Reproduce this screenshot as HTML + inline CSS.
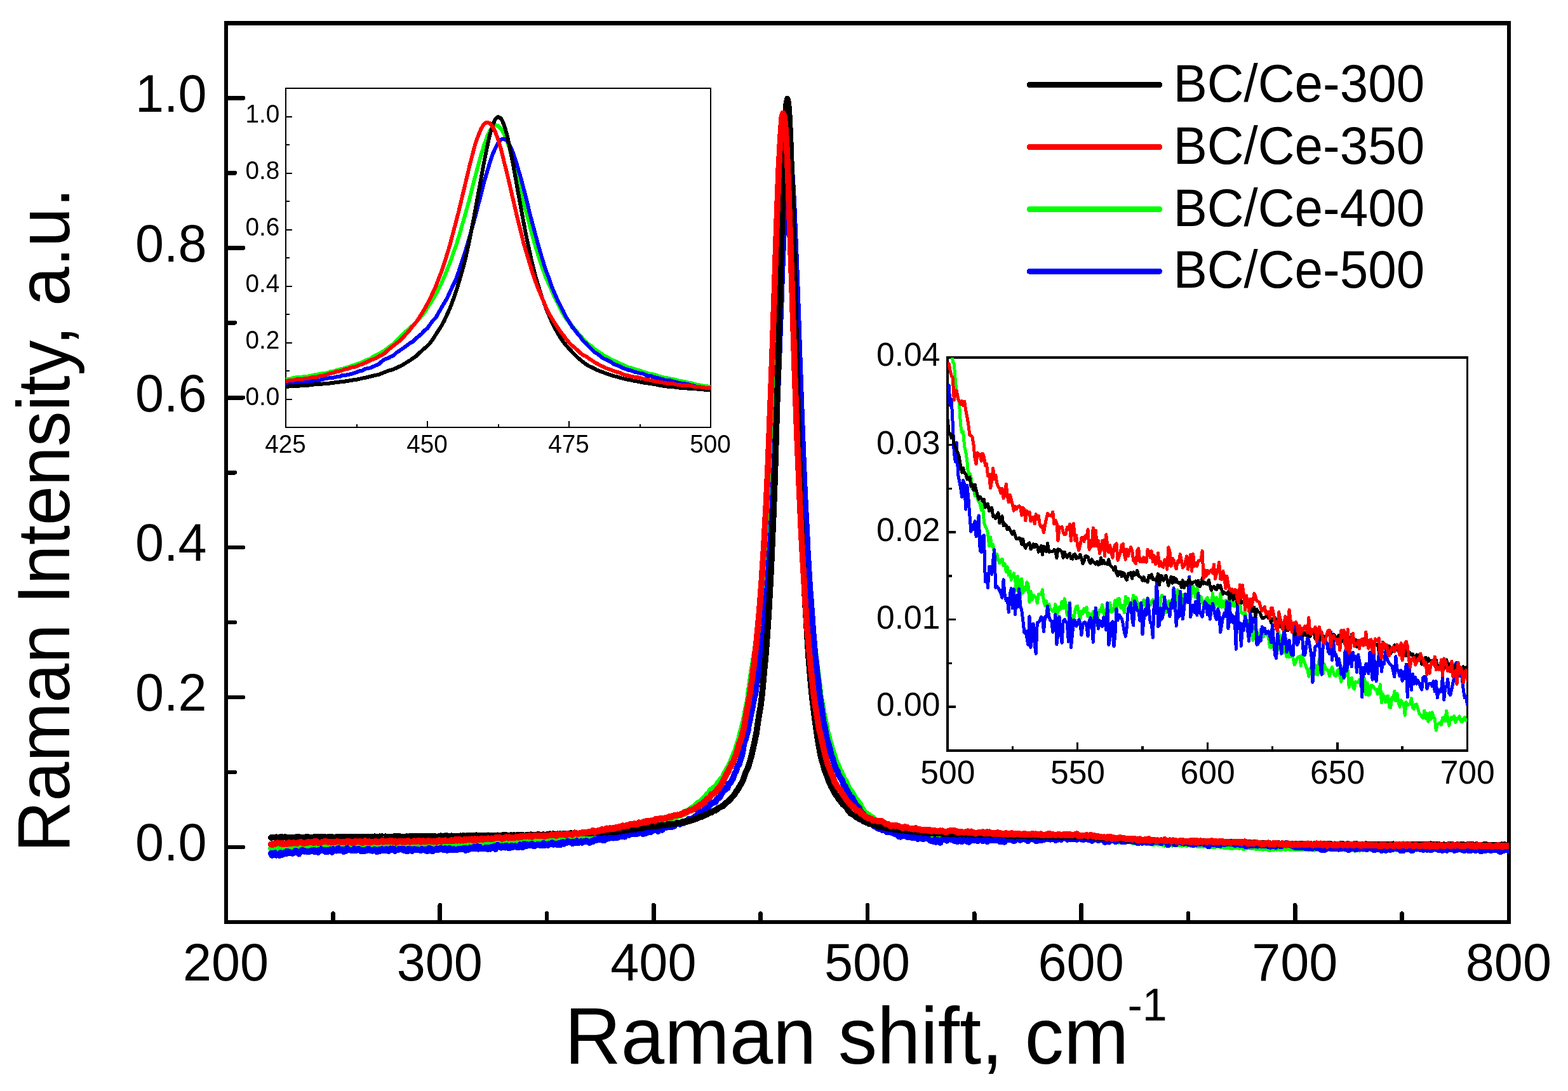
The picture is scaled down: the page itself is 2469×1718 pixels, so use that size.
<!DOCTYPE html>
<html lang="en">
<head>
<meta charset="utf-8">
<title>Raman spectra</title>
<style>
html,body{margin:0;padding:0;background:#fff;}
body{width:2469px;height:1718px;overflow:hidden;}
svg{display:block;}
</style>
</head>
<body>
<svg width="2469" height="1718" viewBox="0 0 2469 1718" font-family='"Liberation Sans", sans-serif' fill="#000" shape-rendering="crispEdges">
<rect x="0" y="0" width="2469" height="1718" fill="#fff"/>
<g stroke="#000" stroke-width="6.6" stroke-linecap="round" fill="none">
<line x1="524.42" y1="1452.00" x2="524.42" y2="1438.40"/>
<line x1="692.73" y1="1452.00" x2="692.73" y2="1425.20"/>
<line x1="861.05" y1="1452.00" x2="861.05" y2="1438.40"/>
<line x1="1029.37" y1="1452.00" x2="1029.37" y2="1425.20"/>
<line x1="1197.68" y1="1452.00" x2="1197.68" y2="1438.40"/>
<line x1="1366.00" y1="1452.00" x2="1366.00" y2="1425.20"/>
<line x1="1534.32" y1="1452.00" x2="1534.32" y2="1438.40"/>
<line x1="1702.63" y1="1452.00" x2="1702.63" y2="1425.20"/>
<line x1="1870.95" y1="1452.00" x2="1870.95" y2="1438.40"/>
<line x1="2039.27" y1="1452.00" x2="2039.27" y2="1425.20"/>
<line x1="2207.58" y1="1452.00" x2="2207.58" y2="1438.40"/>
<line x1="356.10" y1="1334.03" x2="382.90" y2="1334.03"/>
<line x1="356.10" y1="1216.07" x2="369.70" y2="1216.07"/>
<line x1="356.10" y1="1098.10" x2="382.90" y2="1098.10"/>
<line x1="356.10" y1="980.13" x2="369.70" y2="980.13"/>
<line x1="356.10" y1="862.17" x2="382.90" y2="862.17"/>
<line x1="356.10" y1="744.20" x2="369.70" y2="744.20"/>
<line x1="356.10" y1="626.23" x2="382.90" y2="626.23"/>
<line x1="356.10" y1="508.27" x2="369.70" y2="508.27"/>
<line x1="356.10" y1="390.30" x2="382.90" y2="390.30"/>
<line x1="356.10" y1="272.33" x2="369.70" y2="272.33"/>
<line x1="356.10" y1="154.37" x2="382.90" y2="154.37"/>
</g>
<rect x="356.10" y="36.40" width="2019.80" height="1415.60" fill="none" stroke="#000" stroke-width="6.4"/>
<clipPath id="cm"><rect x="356.10" y="36.40" width="2019.80" height="1415.60"/></clipPath>
<g clip-path="url(#cm)" fill="none" stroke-width="9.6" stroke-linejoin="round" stroke-linecap="round">
<path d="M426.8,1335.8 L428.5,1334.7 L430.2,1335.4 L431.8,1336.8 L433.5,1336.4 L435.2,1335.2 L436.9,1335.8 L438.6,1334.8 L440.3,1337.0 L441.9,1334.0 L443.6,1334.1 L445.3,1336.4 L447.0,1335.5 L448.7,1335.6 L450.4,1335.4 L452.0,1334.3 L453.7,1335.3 L455.4,1335.5 L457.1,1334.3 L458.8,1333.7 L460.5,1334.9 L462.1,1334.3 L463.8,1335.5 L465.5,1333.7 L467.2,1332.7 L468.9,1333.8 L470.6,1334.2 L472.2,1335.5 L473.9,1334.2 L475.6,1335.4 L477.3,1333.3 L479.0,1332.5 L480.7,1332.7 L482.3,1333.5 L484.0,1333.2 L485.7,1334.0 L487.4,1333.3 L489.1,1333.2 L490.8,1333.3 L492.4,1335.0 L494.1,1333.0 L495.8,1332.8 L497.5,1333.7 L499.2,1332.8 L500.9,1332.4 L502.5,1334.6 L504.2,1332.3 L505.9,1333.3 L507.6,1333.7 L509.3,1332.7 L511.0,1333.4 L512.6,1333.1 L514.3,1333.5 L516.0,1333.2 L517.7,1333.5 L519.4,1333.1 L521.1,1333.4 L522.7,1333.5 L524.4,1331.7 L526.1,1332.5 L527.8,1332.1 L529.5,1331.2 L531.1,1331.9 L532.8,1332.4 L534.5,1333.2 L536.2,1331.8 L537.9,1332.0 L539.6,1331.5 L541.2,1332.4 L542.9,1332.5 L544.6,1333.8 L546.3,1331.8 L548.0,1333.3 L549.7,1332.6 L551.3,1331.8 L553.0,1332.1 L554.7,1332.2 L556.4,1331.8 L558.1,1333.4 L559.8,1332.1 L561.4,1331.2 L563.1,1331.2 L564.8,1333.2 L566.5,1331.4 L568.2,1331.7 L569.9,1332.8 L571.5,1333.0 L573.2,1332.1 L574.9,1331.0 L576.6,1331.6 L578.3,1332.7 L580.0,1331.9 L581.6,1331.2 L583.3,1332.0 L585.0,1332.3 L586.7,1331.6 L588.4,1333.4 L590.1,1331.6 L591.7,1332.9 L593.4,1331.9 L595.1,1331.6 L596.8,1331.9 L598.5,1332.4 L600.2,1332.1 L601.8,1331.2 L603.5,1332.8 L605.2,1332.4 L606.9,1331.5 L608.6,1331.1 L610.3,1331.7 L611.9,1332.1 L613.6,1331.2 L615.3,1332.0 L617.0,1330.2 L618.7,1330.7 L620.4,1330.2 L622.0,1332.3 L623.7,1331.9 L625.4,1331.8 L627.1,1332.5 L628.8,1331.9 L630.5,1330.8 L632.1,1332.2 L633.8,1331.7 L635.5,1330.4 L637.2,1331.2 L638.9,1331.1 L640.6,1331.4 L642.2,1331.8 L643.9,1331.6 L645.6,1331.2 L647.3,1331.8 L649.0,1331.3 L650.7,1331.6 L652.3,1331.3 L654.0,1330.1 L655.7,1330.8 L657.4,1332.1 L659.1,1331.3 L660.8,1329.8 L662.4,1329.8 L664.1,1331.9 L665.8,1330.7 L667.5,1331.0 L669.2,1332.6 L670.9,1330.7 L672.5,1329.5 L674.2,1331.4 L675.9,1331.1 L677.6,1330.1 L679.3,1331.1 L681.0,1331.0 L682.6,1330.5 L684.3,1331.7 L686.0,1330.2 L687.7,1331.5 L689.4,1330.4 L691.1,1329.8 L692.7,1329.1 L694.4,1330.9 L696.1,1330.1 L697.8,1330.0 L699.5,1331.4 L701.1,1330.1 L702.8,1329.8 L704.5,1329.5 L706.2,1328.4 L707.9,1329.7 L709.6,1329.7 L711.2,1329.7 L712.9,1329.6 L714.6,1329.1 L716.3,1328.3 L718.0,1330.1 L719.7,1329.2 L721.3,1330.8 L723.0,1330.3 L724.7,1328.9 L726.4,1330.5 L728.1,1328.6 L729.8,1327.9 L731.4,1329.4 L733.1,1329.2 L734.8,1328.6 L736.5,1328.9 L738.2,1328.5 L739.9,1328.9 L741.5,1327.6 L743.2,1328.0 L744.9,1328.1 L746.6,1329.6 L748.3,1328.4 L750.0,1327.8 L751.6,1327.3 L753.3,1328.2 L755.0,1327.2 L756.7,1326.9 L758.4,1327.9 L760.1,1326.8 L761.7,1327.4 L763.4,1328.0 L765.1,1327.1 L766.8,1326.1 L768.5,1326.7 L770.2,1326.9 L771.8,1326.2 L773.5,1326.2 L775.2,1326.5 L776.9,1327.9 L778.6,1328.1 L780.3,1327.6 L781.9,1325.1 L783.6,1325.8 L785.3,1327.3 L787.0,1325.6 L788.7,1327.1 L790.4,1325.9 L792.0,1325.3 L793.7,1325.9 L795.4,1325.2 L797.1,1325.1 L798.8,1326.9 L800.5,1325.7 L802.1,1325.2 L803.8,1325.8 L805.5,1326.4 L807.2,1324.3 L808.9,1325.1 L810.6,1325.6 L812.2,1325.8 L813.9,1325.1 L815.6,1324.2 L817.3,1325.3 L819.0,1324.5 L820.7,1324.6 L822.3,1324.9 L824.0,1324.6 L825.7,1324.5 L827.4,1325.2 L829.1,1325.4 L830.8,1323.9 L832.4,1323.2 L834.1,1323.8 L835.8,1324.7 L837.5,1324.0 L839.2,1324.3 L840.9,1324.8 L842.5,1324.5 L844.2,1324.1 L845.9,1323.2 L847.6,1324.3 L849.3,1322.6 L851.0,1323.3 L852.6,1322.4 L854.3,1322.5 L856.0,1322.9 L857.7,1322.9 L859.4,1322.6 L861.1,1322.6 L862.7,1322.2 L864.4,1321.3 L866.1,1322.0 L867.8,1321.3 L869.5,1321.6 L871.1,1322.4 L872.8,1321.7 L874.5,1321.5 L876.2,1321.2 L877.9,1322.0 L879.6,1320.9 L881.2,1322.0 L882.9,1321.5 L884.6,1320.9 L886.3,1321.1 L888.0,1321.7 L889.7,1321.9 L891.3,1321.2 L893.0,1321.2 L894.7,1319.1 L896.4,1321.2 L898.1,1321.3 L899.8,1318.6 L901.4,1321.2 L903.1,1320.3 L904.8,1319.4 L906.5,1319.6 L908.2,1319.3 L909.9,1318.2 L911.5,1317.5 L913.2,1318.9 L914.9,1318.6 L916.6,1318.9 L918.3,1318.9 L920.0,1318.6 L921.6,1318.0 L923.3,1318.3 L925.0,1317.6 L926.7,1317.9 L928.4,1318.2 L930.1,1317.5 L931.7,1317.2 L933.4,1317.2 L935.1,1316.9 L936.8,1316.0 L938.5,1317.1 L940.2,1315.3 L941.8,1316.2 L943.5,1315.6 L945.2,1314.4 L946.9,1314.4 L948.6,1316.1 L950.3,1314.3 L951.9,1313.4 L953.6,1314.8 L955.3,1314.2 L957.0,1312.6 L958.7,1314.3 L960.4,1311.9 L962.0,1313.8 L963.7,1313.1 L965.4,1312.7 L967.1,1312.4 L968.8,1311.2 L970.5,1311.2 L972.1,1311.1 L973.8,1310.8 L975.5,1311.8 L977.2,1310.8 L978.9,1309.3 L980.6,1310.7 L982.2,1308.5 L983.9,1309.3 L985.6,1309.6 L987.3,1308.0 L989.0,1307.7 L990.7,1308.4 L992.3,1308.0 L994.0,1307.9 L995.7,1307.4 L997.4,1308.1 L999.1,1306.7 L1000.8,1305.0 L1002.4,1305.9 L1004.1,1304.9 L1005.8,1304.2 L1007.5,1304.3 L1009.2,1304.3 L1010.9,1304.0 L1012.5,1303.6 L1014.2,1302.5 L1015.9,1302.6 L1017.6,1301.4 L1019.3,1300.2 L1021.0,1300.7 L1022.6,1301.6 L1024.3,1299.9 L1026.0,1299.8 L1027.7,1299.5 L1029.4,1299.3 L1031.0,1298.4 L1032.7,1296.0 L1034.4,1295.5 L1036.1,1295.5 L1037.8,1296.8 L1039.5,1295.6 L1041.1,1294.4 L1042.8,1294.8 L1044.5,1293.6 L1046.2,1292.7 L1047.9,1291.8 L1049.6,1291.9 L1051.2,1291.3 L1052.9,1291.2 L1054.6,1290.7 L1056.3,1289.7 L1058.0,1289.1 L1059.7,1287.7 L1061.3,1287.2 L1063.0,1287.0 L1064.7,1285.1 L1066.4,1285.7 L1068.1,1284.3 L1069.8,1283.7 L1071.4,1283.8 L1073.1,1282.7 L1074.8,1281.5 L1076.5,1281.1 L1078.2,1281.3 L1079.9,1278.0 L1081.5,1278.3 L1083.2,1276.6 L1084.9,1275.9 L1086.6,1274.9 L1088.3,1273.0 L1090.0,1271.9 L1091.6,1272.2 L1093.3,1270.2 L1095.0,1268.1 L1096.7,1266.9 L1098.4,1264.8 L1100.1,1264.5 L1101.7,1262.8 L1103.4,1262.9 L1105.1,1259.6 L1106.8,1259.0 L1108.5,1257.3 L1110.2,1255.3 L1111.8,1253.5 L1113.5,1250.8 L1115.2,1250.9 L1116.9,1248.0 L1118.6,1244.5 L1120.3,1243.4 L1121.9,1243.4 L1123.6,1240.7 L1125.3,1239.8 L1127.0,1238.5 L1128.7,1236.4 L1130.4,1233.3 L1132.0,1231.8 L1133.7,1229.1 L1135.4,1226.4 L1137.1,1225.9 L1138.8,1223.6 L1140.5,1218.1 L1142.1,1217.3 L1143.8,1213.3 L1145.5,1209.9 L1147.2,1207.3 L1148.9,1204.4 L1150.6,1200.5 L1152.2,1196.7 L1153.9,1191.9 L1155.6,1188.1 L1157.3,1184.3 L1159.0,1179.4 L1160.7,1173.3 L1162.3,1169.2 L1164.0,1164.0 L1165.7,1155.3 L1167.4,1150.0 L1169.1,1143.4 L1170.8,1137.4 L1172.4,1130.2 L1174.1,1120.7 L1175.8,1111.7 L1177.5,1104.4 L1179.2,1090.6 L1180.9,1079.3 L1182.5,1068.3 L1184.2,1055.5 L1185.9,1045.7 L1187.6,1035.0 L1189.3,1025.0 L1191.0,1012.1 L1192.6,1000.2 L1194.3,986.6 L1196.0,971.9 L1197.7,952.9 L1199.4,934.6 L1201.0,916.1 L1202.7,896.3 L1204.4,873.0 L1206.1,850.1 L1207.8,821.8 L1209.5,793.4 L1211.1,763.2 L1212.8,730.8 L1214.5,696.3 L1216.2,659.8 L1217.9,619.3 L1219.6,577.7 L1221.2,536.0 L1222.9,492.6 L1224.6,443.3 L1226.3,399.1 L1228.0,354.9 L1229.7,312.3 L1231.3,274.4 L1233.0,240.3 L1234.7,214.6 L1236.4,198.5 L1238.1,190.4 L1239.8,193.5 L1241.4,206.0 L1243.1,225.5 L1244.8,251.6 L1246.5,288.5 L1248.2,329.6 L1249.9,372.2 L1251.5,418.2 L1253.2,465.5 L1254.9,513.4 L1256.6,558.2 L1258.3,603.6 L1260.0,649.2 L1261.6,691.0 L1263.3,729.1 L1265.0,766.2 L1266.7,800.2 L1268.4,832.1 L1270.1,856.7 L1271.7,883.9 L1273.4,910.8 L1275.1,934.1 L1276.8,958.8 L1278.5,979.9 L1280.2,998.7 L1281.8,1013.9 L1283.5,1026.8 L1285.2,1042.8 L1286.9,1055.8 L1288.6,1069.6 L1290.3,1082.5 L1291.9,1096.6 L1293.6,1106.2 L1295.3,1114.0 L1297.0,1125.1 L1298.7,1132.6 L1300.4,1140.8 L1302.0,1149.7 L1303.7,1156.1 L1305.4,1161.8 L1307.1,1169.2 L1308.8,1174.1 L1310.5,1179.9 L1312.1,1185.5 L1313.8,1190.4 L1315.5,1195.7 L1317.2,1201.4 L1318.9,1203.8 L1320.6,1207.5 L1322.2,1212.1 L1323.9,1214.9 L1325.6,1219.3 L1327.3,1222.6 L1329.0,1227.0 L1330.7,1229.0 L1332.3,1231.0 L1334.0,1235.3 L1335.7,1239.4 L1337.4,1242.2 L1339.1,1245.2 L1340.8,1246.5 L1342.4,1250.4 L1344.1,1251.6 L1345.8,1254.9 L1347.5,1258.8 L1349.2,1259.5 L1350.9,1262.0 L1352.5,1265.1 L1354.2,1265.8 L1355.9,1270.5 L1357.6,1273.1 L1359.3,1275.8 L1361.0,1277.8 L1362.6,1279.9 L1364.3,1280.8 L1366.0,1283.0 L1367.7,1283.2 L1369.4,1284.6 L1371.0,1285.7 L1372.7,1287.4 L1374.4,1287.7 L1376.1,1290.1 L1377.8,1291.5 L1379.5,1292.2 L1381.1,1293.0 L1382.8,1296.0 L1384.5,1296.9 L1386.2,1296.9 L1387.9,1298.9 L1389.6,1299.6 L1391.2,1300.8 L1392.9,1302.8 L1394.6,1302.5 L1396.3,1303.0 L1398.0,1304.6 L1399.7,1304.4 L1401.3,1305.5 L1403.0,1304.9 L1404.7,1305.9 L1406.4,1306.3 L1408.1,1306.6 L1409.8,1307.5 L1411.4,1306.7 L1413.1,1309.1 L1414.8,1309.7 L1416.5,1309.9 L1418.2,1310.6 L1419.9,1312.3 L1421.5,1311.1 L1423.2,1312.4 L1424.9,1312.1 L1426.6,1313.3 L1428.3,1313.6 L1430.0,1313.4 L1431.6,1314.2 L1433.3,1314.6 L1435.0,1314.2 L1436.7,1314.1 L1438.4,1315.0 L1440.1,1314.7 L1441.7,1315.8 L1443.4,1315.1 L1445.1,1316.3 L1446.8,1315.7 L1448.5,1316.9 L1450.2,1316.3 L1451.8,1316.0 L1453.5,1316.9 L1455.2,1318.3 L1456.9,1316.4 L1458.6,1318.1 L1460.3,1319.4 L1461.9,1316.7 L1463.6,1318.6 L1465.3,1317.8 L1467.0,1318.3 L1468.7,1317.2 L1470.4,1317.5 L1472.0,1319.9 L1473.7,1318.4 L1475.4,1319.6 L1477.1,1319.0 L1478.8,1319.1 L1480.5,1319.2 L1482.1,1320.0 L1483.8,1318.8 L1485.5,1318.8 L1487.2,1318.9 L1488.9,1318.2 L1490.6,1319.8 L1492.2,1320.3 L1493.9,1319.7 L1495.6,1321.4 L1497.3,1320.1 L1499.0,1320.9 L1500.7,1320.9 L1502.3,1321.1 L1504.0,1321.1 L1505.7,1320.2 L1507.4,1321.6 L1509.1,1321.2 L1510.8,1320.5 L1512.4,1320.9 L1514.1,1319.8 L1515.8,1320.7 L1517.5,1319.4 L1519.2,1320.3 L1520.9,1321.7 L1522.5,1321.1 L1524.2,1319.9 L1525.9,1322.0 L1527.6,1321.7 L1529.3,1322.4 L1531.0,1321.2 L1532.6,1320.5 L1534.3,1320.4 L1536.0,1321.3 L1537.7,1322.2 L1539.4,1321.1 L1541.0,1321.4 L1542.7,1320.8 L1544.4,1321.2 L1546.1,1320.6 L1547.8,1321.8 L1549.5,1321.4 L1551.1,1321.6 L1552.8,1321.8 L1554.5,1321.2 L1556.2,1322.7 L1557.9,1322.6 L1559.6,1323.1 L1561.2,1321.5 L1562.9,1320.9 L1564.6,1321.2 L1566.3,1320.3 L1568.0,1321.2 L1569.7,1321.8 L1571.3,1320.9 L1573.0,1320.9 L1574.7,1320.7 L1576.4,1320.0 L1578.1,1321.3 L1579.8,1321.1 L1581.4,1320.6 L1583.1,1319.6 L1584.8,1321.0 L1586.5,1319.5 L1588.2,1319.4 L1589.9,1320.6 L1591.5,1320.7 L1593.2,1320.3 L1594.9,1321.3 L1596.6,1319.1 L1598.3,1320.1 L1600.0,1319.4 L1601.6,1320.6 L1603.3,1320.0 L1605.0,1320.2 L1606.7,1319.0 L1608.4,1320.8 L1610.1,1319.2 L1611.7,1320.0 L1613.4,1320.1 L1615.1,1321.2 L1616.8,1320.1 L1618.5,1320.3 L1620.2,1319.6 L1621.8,1320.3 L1623.5,1320.4 L1625.2,1319.3 L1626.9,1319.8 L1628.6,1320.3 L1630.3,1319.8 L1631.9,1319.6 L1633.6,1320.1 L1635.3,1320.0 L1637.0,1318.9 L1638.7,1320.0 L1640.4,1321.4 L1642.0,1319.3 L1643.7,1319.0 L1645.4,1319.2 L1647.1,1319.2 L1648.8,1321.3 L1650.5,1320.5 L1652.1,1319.8 L1653.8,1319.7 L1655.5,1319.8 L1657.2,1320.7 L1658.9,1320.3 L1660.6,1320.0 L1662.2,1319.1 L1663.9,1318.2 L1665.6,1320.8 L1667.3,1319.6 L1669.0,1320.3 L1670.7,1318.9 L1672.3,1319.3 L1674.0,1319.1 L1675.7,1319.3 L1677.4,1319.8 L1679.1,1319.8 L1680.8,1319.4 L1682.4,1318.5 L1684.1,1317.7 L1685.8,1318.4 L1687.5,1319.3 L1689.2,1318.0 L1690.9,1318.9 L1692.5,1319.1 L1694.2,1319.2 L1695.9,1319.9 L1697.6,1320.3 L1699.3,1319.8 L1701.0,1319.5 L1702.6,1319.3 L1704.3,1320.3 L1706.0,1319.6 L1707.7,1320.8 L1709.4,1318.7 L1711.0,1320.0 L1712.7,1320.4 L1714.4,1319.3 L1716.1,1319.8 L1717.8,1320.6 L1719.5,1318.7 L1721.1,1320.6 L1722.8,1319.7 L1724.5,1320.5 L1726.2,1319.6 L1727.9,1319.7 L1729.6,1320.8 L1731.2,1320.9 L1732.9,1319.6 L1734.6,1320.4 L1736.3,1320.0 L1738.0,1320.5 L1739.7,1320.0 L1741.3,1320.4 L1743.0,1321.3 L1744.7,1320.0 L1746.4,1321.3 L1748.1,1321.4 L1749.8,1321.5 L1751.4,1321.1 L1753.1,1322.7 L1754.8,1322.4 L1756.5,1322.8 L1758.2,1323.1 L1759.9,1323.9 L1761.5,1325.0 L1763.2,1324.1 L1764.9,1323.1 L1766.6,1324.0 L1768.3,1324.3 L1770.0,1324.2 L1771.6,1323.6 L1773.3,1324.4 L1775.0,1324.6 L1776.7,1324.1 L1778.4,1323.8 L1780.1,1324.4 L1781.7,1324.6 L1783.4,1326.0 L1785.1,1326.0 L1786.8,1325.0 L1788.5,1325.5 L1790.2,1325.6 L1791.8,1325.2 L1793.5,1325.0 L1795.2,1323.9 L1796.9,1326.4 L1798.6,1325.8 L1800.3,1324.4 L1801.9,1326.7 L1803.6,1326.0 L1805.3,1327.3 L1807.0,1325.8 L1808.7,1327.3 L1810.4,1326.6 L1812.0,1326.5 L1813.7,1327.5 L1815.4,1328.3 L1817.1,1328.0 L1818.8,1327.5 L1820.5,1327.3 L1822.1,1327.2 L1823.8,1328.5 L1825.5,1327.0 L1827.2,1327.7 L1828.9,1328.1 L1830.6,1328.7 L1832.2,1329.0 L1833.9,1329.9 L1835.6,1328.9 L1837.3,1328.7 L1839.0,1327.6 L1840.7,1328.2 L1842.3,1329.6 L1844.0,1328.5 L1845.7,1329.7 L1847.4,1327.6 L1849.1,1327.4 L1850.8,1328.9 L1852.4,1329.6 L1854.1,1328.3 L1855.8,1329.0 L1857.5,1329.0 L1859.2,1329.2 L1860.9,1329.9 L1862.5,1329.0 L1864.2,1328.6 L1865.9,1329.4 L1867.6,1329.8 L1869.3,1329.9 L1871.0,1329.2 L1872.6,1329.0 L1874.3,1329.9 L1876.0,1330.6 L1877.7,1329.5 L1879.4,1330.1 L1881.0,1329.8 L1882.7,1328.6 L1884.4,1329.0 L1886.1,1331.4 L1887.8,1330.7 L1889.5,1330.1 L1891.1,1331.4 L1892.8,1331.6 L1894.5,1330.6 L1896.2,1330.7 L1897.9,1330.7 L1899.6,1330.4 L1901.2,1331.1 L1902.9,1330.9 L1904.6,1330.9 L1906.3,1330.2 L1908.0,1332.4 L1909.7,1330.8 L1911.3,1332.5 L1913.0,1332.3 L1914.7,1331.1 L1916.4,1331.2 L1918.1,1331.3 L1919.8,1331.7 L1921.4,1331.7 L1923.1,1332.3 L1924.8,1331.7 L1926.5,1331.0 L1928.2,1333.5 L1929.9,1332.3 L1931.5,1332.7 L1933.2,1333.4 L1934.9,1332.6 L1936.6,1332.6 L1938.3,1334.1 L1940.0,1334.2 L1941.6,1332.8 L1943.3,1333.0 L1945.0,1331.9 L1946.7,1333.3 L1948.4,1332.2 L1950.1,1333.4 L1951.7,1334.0 L1953.4,1333.2 L1955.1,1333.7 L1956.8,1333.6 L1958.5,1335.2 L1960.2,1333.4 L1961.8,1333.9 L1963.5,1333.7 L1965.2,1333.7 L1966.9,1332.9 L1968.6,1334.2 L1970.3,1334.4 L1971.9,1333.7 L1973.6,1333.7 L1975.3,1334.4 L1977.0,1334.9 L1978.7,1335.1 L1980.4,1335.4 L1982.0,1335.5 L1983.7,1334.6 L1985.4,1335.6 L1987.1,1334.9 L1988.8,1336.0 L1990.5,1334.9 L1992.1,1335.7 L1993.8,1334.8 L1995.5,1335.4 L1997.2,1335.6 L1998.9,1337.2 L2000.6,1336.4 L2002.2,1336.3 L2003.9,1336.2 L2005.6,1336.5 L2007.3,1335.5 L2009.0,1335.4 L2010.7,1336.0 L2012.3,1334.6 L2014.0,1335.6 L2015.7,1336.6 L2017.4,1335.7 L2019.1,1335.4 L2020.8,1335.7 L2022.4,1335.3 L2024.1,1336.1 L2025.8,1335.6 L2027.5,1335.6 L2029.2,1335.3 L2030.9,1335.9 L2032.5,1336.1 L2034.2,1335.7 L2035.9,1335.4 L2037.6,1335.9 L2039.3,1335.8 L2040.9,1336.5 L2042.6,1334.7 L2044.3,1336.4 L2046.0,1334.0 L2047.7,1335.8 L2049.4,1334.8 L2051.0,1336.0 L2052.7,1335.4 L2054.4,1335.6 L2056.1,1336.0 L2057.8,1336.6 L2059.5,1336.1 L2061.1,1336.8 L2062.8,1334.8 L2064.5,1336.5 L2066.2,1334.6 L2067.9,1336.0 L2069.6,1337.1 L2071.2,1334.5 L2072.9,1335.1 L2074.6,1336.1 L2076.3,1336.3 L2078.0,1336.3 L2079.7,1335.2 L2081.3,1336.9 L2083.0,1336.3 L2084.7,1335.2 L2086.4,1334.6 L2088.1,1336.4 L2089.8,1336.3 L2091.4,1336.5 L2093.1,1335.3 L2094.8,1336.5 L2096.5,1336.2 L2098.2,1335.7 L2099.9,1335.6 L2101.5,1335.5 L2103.2,1336.6 L2104.9,1335.9 L2106.6,1335.8 L2108.3,1335.5 L2110.0,1335.0 L2111.6,1335.4 L2113.3,1336.6 L2115.0,1335.9 L2116.7,1336.8 L2118.4,1335.1 L2120.1,1336.2 L2121.7,1336.2 L2123.4,1335.9 L2125.1,1336.5 L2126.8,1335.6 L2128.5,1335.6 L2130.2,1336.0 L2131.8,1336.1 L2133.5,1337.8 L2135.2,1336.5 L2136.9,1335.8 L2138.6,1336.0 L2140.3,1337.8 L2141.9,1335.8 L2143.6,1335.6 L2145.3,1336.7 L2147.0,1336.9 L2148.7,1336.2 L2150.4,1337.0 L2152.0,1337.1 L2153.7,1337.3 L2155.4,1335.5 L2157.1,1336.3 L2158.8,1336.8 L2160.5,1337.2 L2162.1,1336.0 L2163.8,1336.7 L2165.5,1336.6 L2167.2,1336.5 L2168.9,1336.7 L2170.6,1336.1 L2172.2,1335.7 L2173.9,1337.3 L2175.6,1337.1 L2177.3,1336.1 L2179.0,1337.0 L2180.7,1336.5 L2182.3,1335.4 L2184.0,1336.1 L2185.7,1335.6 L2187.4,1335.6 L2189.1,1335.6 L2190.8,1336.2 L2192.4,1335.3 L2194.1,1336.8 L2195.8,1336.8 L2197.5,1336.0 L2199.2,1337.0 L2200.9,1336.3 L2202.5,1336.7 L2204.2,1335.7 L2205.9,1336.0 L2207.6,1335.6 L2209.3,1336.7 L2210.9,1337.6 L2212.6,1335.6 L2214.3,1335.3 L2216.0,1337.0 L2217.7,1337.2 L2219.4,1337.7 L2221.0,1335.6 L2222.7,1337.3 L2224.4,1336.3 L2226.1,1336.3 L2227.8,1336.9 L2229.5,1336.6 L2231.1,1336.8 L2232.8,1335.9 L2234.5,1335.5 L2236.2,1335.5 L2237.9,1337.5 L2239.6,1337.4 L2241.2,1336.8 L2242.9,1336.2 L2244.6,1336.0 L2246.3,1338.0 L2248.0,1336.4 L2249.7,1335.9 L2251.3,1336.5 L2253.0,1336.6 L2254.7,1337.8 L2256.4,1335.5 L2258.1,1336.2 L2259.8,1336.8 L2261.4,1336.9 L2263.1,1335.9 L2264.8,1335.6 L2266.5,1336.7 L2268.2,1337.4 L2269.9,1336.1 L2271.5,1337.0 L2273.2,1336.6 L2274.9,1336.7 L2276.6,1337.3 L2278.3,1335.6 L2280.0,1337.4 L2281.6,1335.5 L2283.3,1337.1 L2285.0,1336.7 L2286.7,1336.5 L2288.4,1336.2 L2290.1,1337.2 L2291.7,1335.2 L2293.4,1336.6 L2295.1,1335.3 L2296.8,1335.8 L2298.5,1336.5 L2300.2,1337.0 L2301.8,1336.1 L2303.5,1336.1 L2305.2,1337.0 L2306.9,1336.5 L2308.6,1335.9 L2310.3,1335.7 L2311.9,1336.5 L2313.6,1336.5 L2315.3,1337.0 L2317.0,1337.3 L2318.7,1335.8 L2320.4,1336.3 L2322.0,1336.6 L2323.7,1335.6 L2325.4,1335.8 L2327.1,1337.6 L2328.8,1338.1 L2330.5,1336.4 L2332.1,1336.8 L2333.8,1335.8 L2335.5,1337.3 L2337.2,1336.0 L2338.9,1336.1 L2340.6,1337.2 L2342.2,1335.0 L2343.9,1337.0 L2345.6,1336.4 L2347.3,1336.8 L2349.0,1336.7 L2350.7,1337.1 L2352.3,1337.0 L2354.0,1336.1 L2355.7,1337.6 L2357.4,1336.5 L2359.1,1336.4 L2360.8,1336.4 L2362.4,1336.4 L2364.1,1335.1 L2365.8,1336.4 L2367.5,1336.5 L2369.2,1336.9 L2370.9,1335.5 L2372.5,1335.5 L2374.2,1337.1 L2375.9,1337.1" stroke="#00ff00"/>
<path d="M426.8,1343.8 L428.5,1347.0 L430.2,1344.1 L431.8,1346.6 L433.5,1343.2 L435.2,1346.8 L436.9,1345.5 L438.6,1345.2 L440.3,1347.1 L441.9,1342.8 L443.6,1346.1 L445.3,1345.6 L447.0,1344.4 L448.7,1342.4 L450.4,1344.4 L452.0,1340.3 L453.7,1343.0 L455.4,1343.3 L457.1,1342.1 L458.8,1342.8 L460.5,1343.9 L462.1,1343.1 L463.8,1341.9 L465.5,1339.8 L467.2,1341.5 L468.9,1341.1 L470.6,1344.8 L472.2,1341.9 L473.9,1341.4 L475.6,1338.8 L477.3,1338.9 L479.0,1340.8 L480.7,1340.1 L482.3,1340.9 L484.0,1341.7 L485.7,1340.5 L487.4,1341.0 L489.1,1339.9 L490.8,1339.3 L492.4,1340.4 L494.1,1338.5 L495.8,1341.6 L497.5,1339.8 L499.2,1339.5 L500.9,1342.3 L502.5,1338.7 L504.2,1338.5 L505.9,1337.0 L507.6,1339.5 L509.3,1338.5 L511.0,1338.3 L512.6,1341.5 L514.3,1338.7 L516.0,1341.2 L517.7,1338.7 L519.4,1338.0 L521.1,1338.6 L522.7,1341.9 L524.4,1336.9 L526.1,1338.5 L527.8,1337.5 L529.5,1339.8 L531.1,1339.4 L532.8,1335.9 L534.5,1339.1 L536.2,1339.5 L537.9,1339.4 L539.6,1337.4 L541.2,1341.1 L542.9,1339.3 L544.6,1340.1 L546.3,1335.6 L548.0,1337.3 L549.7,1338.7 L551.3,1338.5 L553.0,1339.1 L554.7,1339.4 L556.4,1339.0 L558.1,1336.3 L559.8,1339.2 L561.4,1339.1 L563.1,1338.3 L564.8,1336.6 L566.5,1338.1 L568.2,1340.2 L569.9,1338.6 L571.5,1338.7 L573.2,1340.6 L574.9,1339.8 L576.6,1338.2 L578.3,1339.3 L580.0,1336.3 L581.6,1338.2 L583.3,1339.3 L585.0,1338.8 L586.7,1339.9 L588.4,1339.6 L590.1,1337.5 L591.7,1338.7 L593.4,1341.3 L595.1,1340.5 L596.8,1337.8 L598.5,1340.2 L600.2,1339.0 L601.8,1337.0 L603.5,1338.9 L605.2,1339.0 L606.9,1339.1 L608.6,1337.0 L610.3,1339.5 L611.9,1340.3 L613.6,1338.4 L615.3,1336.2 L617.0,1338.0 L618.7,1336.3 L620.4,1336.7 L622.0,1340.0 L623.7,1338.3 L625.4,1338.6 L627.1,1338.4 L628.8,1336.7 L630.5,1336.4 L632.1,1337.3 L633.8,1336.6 L635.5,1339.2 L637.2,1337.2 L638.9,1339.8 L640.6,1338.8 L642.2,1340.1 L643.9,1336.5 L645.6,1338.9 L647.3,1337.2 L649.0,1340.1 L650.7,1337.9 L652.3,1337.1 L654.0,1338.1 L655.7,1337.9 L657.4,1338.0 L659.1,1338.2 L660.8,1338.7 L662.4,1339.3 L664.1,1336.7 L665.8,1338.1 L667.5,1338.0 L669.2,1337.6 L670.9,1339.8 L672.5,1340.0 L674.2,1339.9 L675.9,1335.4 L677.6,1338.4 L679.3,1336.9 L681.0,1340.5 L682.6,1338.4 L684.3,1337.7 L686.0,1338.6 L687.7,1336.2 L689.4,1338.2 L691.1,1337.8 L692.7,1336.1 L694.4,1335.3 L696.1,1337.1 L697.8,1338.2 L699.5,1337.9 L701.1,1335.7 L702.8,1338.9 L704.5,1338.8 L706.2,1338.7 L707.9,1335.8 L709.6,1336.6 L711.2,1338.4 L712.9,1338.2 L714.6,1337.1 L716.3,1337.8 L718.0,1338.4 L719.7,1338.1 L721.3,1337.1 L723.0,1337.7 L724.7,1336.8 L726.4,1337.2 L728.1,1337.6 L729.8,1335.9 L731.4,1335.8 L733.1,1339.2 L734.8,1336.0 L736.5,1336.9 L738.2,1337.7 L739.9,1335.1 L741.5,1335.7 L743.2,1335.2 L744.9,1336.7 L746.6,1333.3 L748.3,1335.1 L750.0,1336.6 L751.6,1332.9 L753.3,1336.8 L755.0,1333.3 L756.7,1335.8 L758.4,1336.2 L760.1,1336.3 L761.7,1336.6 L763.4,1336.4 L765.1,1334.5 L766.8,1335.1 L768.5,1337.2 L770.2,1334.5 L771.8,1336.9 L773.5,1333.9 L775.2,1335.2 L776.9,1334.8 L778.6,1332.7 L780.3,1337.3 L781.9,1331.1 L783.6,1330.9 L785.3,1332.5 L787.0,1333.2 L788.7,1334.9 L790.4,1332.3 L792.0,1334.0 L793.7,1334.1 L795.4,1334.7 L797.1,1331.5 L798.8,1332.2 L800.5,1335.4 L802.1,1333.4 L803.8,1335.0 L805.5,1331.7 L807.2,1334.3 L808.9,1333.0 L810.6,1331.9 L812.2,1332.9 L813.9,1334.3 L815.6,1333.1 L817.3,1334.3 L819.0,1330.2 L820.7,1330.8 L822.3,1334.5 L824.0,1333.6 L825.7,1328.6 L827.4,1330.7 L829.1,1332.0 L830.8,1330.1 L832.4,1330.9 L834.1,1330.1 L835.8,1331.7 L837.5,1328.7 L839.2,1330.6 L840.9,1332.6 L842.5,1330.8 L844.2,1331.1 L845.9,1330.0 L847.6,1330.1 L849.3,1330.2 L851.0,1331.5 L852.6,1329.9 L854.3,1330.9 L856.0,1327.7 L857.7,1331.5 L859.4,1330.2 L861.1,1330.4 L862.7,1331.1 L864.4,1328.9 L866.1,1329.0 L867.8,1329.1 L869.5,1327.1 L871.1,1330.0 L872.8,1328.4 L874.5,1328.8 L876.2,1328.5 L877.9,1330.6 L879.6,1330.4 L881.2,1327.3 L882.9,1330.1 L884.6,1326.7 L886.3,1326.0 L888.0,1328.9 L889.7,1327.5 L891.3,1327.6 L893.0,1325.6 L894.7,1324.6 L896.4,1326.3 L898.1,1326.1 L899.8,1325.4 L901.4,1328.4 L903.1,1327.0 L904.8,1325.5 L906.5,1327.3 L908.2,1324.1 L909.9,1327.6 L911.5,1326.4 L913.2,1325.8 L914.9,1324.8 L916.6,1326.9 L918.3,1325.9 L920.0,1324.6 L921.6,1324.8 L923.3,1323.9 L925.0,1325.7 L926.7,1325.9 L928.4,1327.2 L930.1,1325.7 L931.7,1324.3 L933.4,1325.5 L935.1,1323.8 L936.8,1321.7 L938.5,1323.4 L940.2,1321.1 L941.8,1321.1 L943.5,1321.9 L945.2,1320.6 L946.9,1320.1 L948.6,1323.1 L950.3,1318.5 L951.9,1323.1 L953.6,1319.9 L955.3,1320.9 L957.0,1320.6 L958.7,1319.2 L960.4,1319.8 L962.0,1319.3 L963.7,1318.8 L965.4,1319.7 L967.1,1317.9 L968.8,1319.5 L970.5,1316.9 L972.1,1319.1 L973.8,1316.8 L975.5,1317.6 L977.2,1314.5 L978.9,1317.7 L980.6,1314.3 L982.2,1316.3 L983.9,1317.8 L985.6,1313.2 L987.3,1313.5 L989.0,1312.2 L990.7,1314.9 L992.3,1312.7 L994.0,1311.6 L995.7,1313.2 L997.4,1310.1 L999.1,1313.1 L1000.8,1311.1 L1002.4,1313.4 L1004.1,1312.9 L1005.8,1312.1 L1007.5,1311.3 L1009.2,1310.6 L1010.9,1309.9 L1012.5,1313.3 L1014.2,1309.8 L1015.9,1310.5 L1017.6,1311.9 L1019.3,1310.1 L1021.0,1307.8 L1022.6,1307.7 L1024.3,1310.3 L1026.0,1308.7 L1027.7,1308.2 L1029.4,1305.3 L1031.0,1307.2 L1032.7,1307.6 L1034.4,1306.2 L1036.1,1309.2 L1037.8,1305.4 L1039.5,1303.8 L1041.1,1304.2 L1042.8,1307.0 L1044.5,1300.8 L1046.2,1302.8 L1047.9,1303.5 L1049.6,1303.0 L1051.2,1301.3 L1052.9,1302.2 L1054.6,1301.8 L1056.3,1300.3 L1058.0,1302.3 L1059.7,1299.2 L1061.3,1301.2 L1063.0,1298.7 L1064.7,1297.3 L1066.4,1297.6 L1068.1,1296.6 L1069.8,1297.8 L1071.4,1297.8 L1073.1,1294.6 L1074.8,1295.7 L1076.5,1296.1 L1078.2,1295.0 L1079.9,1294.6 L1081.5,1291.9 L1083.2,1291.4 L1084.9,1289.3 L1086.6,1292.1 L1088.3,1289.6 L1090.0,1289.0 L1091.6,1291.0 L1093.3,1287.2 L1095.0,1285.2 L1096.7,1286.5 L1098.4,1286.4 L1100.1,1279.7 L1101.7,1283.0 L1103.4,1277.7 L1105.1,1278.5 L1106.8,1276.9 L1108.5,1276.8 L1110.2,1275.8 L1111.8,1270.6 L1113.5,1269.0 L1115.2,1272.2 L1116.9,1267.7 L1118.6,1267.6 L1120.3,1265.0 L1121.9,1264.7 L1123.6,1263.7 L1125.3,1263.7 L1127.0,1262.6 L1128.7,1258.4 L1130.4,1256.9 L1132.0,1256.8 L1133.7,1255.1 L1135.4,1251.2 L1137.1,1248.2 L1138.8,1246.4 L1140.5,1244.4 L1142.1,1243.8 L1143.8,1240.7 L1145.5,1240.9 L1147.2,1234.1 L1148.9,1233.9 L1150.6,1232.6 L1152.2,1229.2 L1153.9,1226.2 L1155.6,1222.0 L1157.3,1216.7 L1159.0,1214.7 L1160.7,1208.1 L1162.3,1205.3 L1164.0,1203.3 L1165.7,1197.3 L1167.4,1192.4 L1169.1,1186.3 L1170.8,1175.4 L1172.4,1167.0 L1174.1,1163.7 L1175.8,1157.4 L1177.5,1152.0 L1179.2,1140.4 L1180.9,1133.2 L1182.5,1124.9 L1184.2,1117.0 L1185.9,1107.6 L1187.6,1099.2 L1189.3,1093.2 L1191.0,1079.9 L1192.6,1071.0 L1194.3,1060.4 L1196.0,1047.8 L1197.7,1038.5 L1199.4,1021.4 L1201.0,1005.1 L1202.7,993.6 L1204.4,972.2 L1206.1,951.8 L1207.8,931.9 L1209.5,912.0 L1211.1,885.4 L1212.8,860.6 L1214.5,836.2 L1216.2,803.3 L1217.9,767.9 L1219.6,730.9 L1221.2,693.9 L1222.9,652.1 L1224.6,609.9 L1226.3,567.3 L1228.0,521.4 L1229.7,476.8 L1231.3,429.0 L1233.0,388.3 L1234.7,348.4 L1236.4,312.3 L1238.1,287.0 L1239.8,263.6 L1241.4,250.1 L1243.1,247.4 L1244.8,254.1 L1246.5,271.9 L1248.2,298.5 L1249.9,331.6 L1251.5,371.1 L1253.2,411.0 L1254.9,456.1 L1256.6,502.0 L1258.3,552.4 L1260.0,597.1 L1261.6,641.0 L1263.3,685.1 L1265.0,726.8 L1266.7,766.0 L1268.4,801.7 L1270.1,832.0 L1271.7,866.6 L1273.4,895.0 L1275.1,922.9 L1276.8,944.7 L1278.5,967.6 L1280.2,992.4 L1281.8,1009.9 L1283.5,1031.3 L1285.2,1044.5 L1286.9,1061.1 L1288.6,1074.2 L1290.3,1091.6 L1291.9,1101.4 L1293.6,1114.5 L1295.3,1126.9 L1297.0,1138.4 L1298.7,1144.9 L1300.4,1154.3 L1302.0,1163.4 L1303.7,1168.3 L1305.4,1174.1 L1307.1,1180.3 L1308.8,1189.7 L1310.5,1192.4 L1312.1,1197.9 L1313.8,1204.2 L1315.5,1207.9 L1317.2,1213.0 L1318.9,1214.6 L1320.6,1220.2 L1322.2,1222.7 L1323.9,1225.5 L1325.6,1227.7 L1327.3,1232.4 L1329.0,1238.4 L1330.7,1237.8 L1332.3,1242.8 L1334.0,1244.6 L1335.7,1248.0 L1337.4,1250.9 L1339.1,1255.3 L1340.8,1255.3 L1342.4,1256.9 L1344.1,1261.3 L1345.8,1263.5 L1347.5,1266.4 L1349.2,1268.2 L1350.9,1270.2 L1352.5,1271.8 L1354.2,1276.3 L1355.9,1278.1 L1357.6,1281.9 L1359.3,1281.3 L1361.0,1285.0 L1362.6,1289.3 L1364.3,1290.8 L1366.0,1291.3 L1367.7,1290.6 L1369.4,1293.3 L1371.0,1292.5 L1372.7,1295.9 L1374.4,1299.7 L1376.1,1300.9 L1377.8,1298.3 L1379.5,1302.6 L1381.1,1303.5 L1382.8,1304.4 L1384.5,1305.7 L1386.2,1303.5 L1387.9,1303.9 L1389.6,1307.4 L1391.2,1304.1 L1392.9,1305.7 L1394.6,1308.2 L1396.3,1310.4 L1398.0,1309.5 L1399.7,1310.0 L1401.3,1309.0 L1403.0,1311.0 L1404.7,1309.6 L1406.4,1308.2 L1408.1,1312.9 L1409.8,1313.2 L1411.4,1311.0 L1413.1,1310.9 L1414.8,1317.1 L1416.5,1316.1 L1418.2,1317.9 L1419.9,1315.1 L1421.5,1315.2 L1423.2,1316.1 L1424.9,1314.3 L1426.6,1312.8 L1428.3,1317.9 L1430.0,1317.8 L1431.6,1317.9 L1433.3,1318.3 L1435.0,1318.7 L1436.7,1319.3 L1438.4,1316.8 L1440.1,1318.9 L1441.7,1319.7 L1443.4,1319.4 L1445.1,1321.3 L1446.8,1318.8 L1448.5,1318.0 L1450.2,1320.7 L1451.8,1318.1 L1453.5,1321.5 L1455.2,1319.0 L1456.9,1320.5 L1458.6,1318.1 L1460.3,1320.4 L1461.9,1320.9 L1463.6,1322.4 L1465.3,1324.0 L1467.0,1323.8 L1468.7,1324.7 L1470.4,1325.6 L1472.0,1321.8 L1473.7,1326.0 L1475.4,1322.9 L1477.1,1322.8 L1478.8,1325.6 L1480.5,1326.9 L1482.1,1322.7 L1483.8,1322.6 L1485.5,1322.4 L1487.2,1321.9 L1488.9,1322.0 L1490.6,1323.9 L1492.2,1321.9 L1493.9,1321.9 L1495.6,1320.4 L1497.3,1321.8 L1499.0,1322.4 L1500.7,1322.4 L1502.3,1323.9 L1504.0,1323.3 L1505.7,1321.6 L1507.4,1325.6 L1509.1,1324.2 L1510.8,1321.8 L1512.4,1324.0 L1514.1,1325.4 L1515.8,1322.4 L1517.5,1322.2 L1519.2,1322.6 L1520.9,1322.8 L1522.5,1325.2 L1524.2,1320.1 L1525.9,1326.0 L1527.6,1324.3 L1529.3,1322.3 L1531.0,1322.4 L1532.6,1323.2 L1534.3,1322.9 L1536.0,1322.3 L1537.7,1322.6 L1539.4,1324.3 L1541.0,1323.0 L1542.7,1322.6 L1544.4,1322.6 L1546.1,1323.1 L1547.8,1324.5 L1549.5,1322.4 L1551.1,1322.0 L1552.8,1322.4 L1554.5,1325.3 L1556.2,1322.4 L1557.9,1320.7 L1559.6,1322.2 L1561.2,1323.5 L1562.9,1322.4 L1564.6,1322.9 L1566.3,1323.2 L1568.0,1321.9 L1569.7,1322.2 L1571.3,1323.7 L1573.0,1320.0 L1574.7,1325.7 L1576.4,1324.9 L1578.1,1322.7 L1579.8,1322.5 L1581.4,1325.9 L1583.1,1324.1 L1584.8,1320.8 L1586.5,1322.3 L1588.2,1321.6 L1589.9,1321.9 L1591.5,1322.1 L1593.2,1322.8 L1594.9,1323.9 L1596.6,1324.5 L1598.3,1323.2 L1600.0,1320.8 L1601.6,1320.5 L1603.3,1320.0 L1605.0,1322.1 L1606.7,1323.0 L1608.4,1319.7 L1610.1,1320.3 L1611.7,1321.0 L1613.4,1321.1 L1615.1,1322.4 L1616.8,1320.0 L1618.5,1324.3 L1620.2,1322.3 L1621.8,1320.8 L1623.5,1321.6 L1625.2,1319.4 L1626.9,1321.0 L1628.6,1322.6 L1630.3,1322.8 L1631.9,1324.7 L1633.6,1319.8 L1635.3,1321.4 L1637.0,1316.6 L1638.7,1323.2 L1640.4,1323.0 L1642.0,1320.7 L1643.7,1322.2 L1645.4,1321.5 L1647.1,1319.2 L1648.8,1320.7 L1650.5,1320.7 L1652.1,1320.8 L1653.8,1321.8 L1655.5,1320.0 L1657.2,1320.7 L1658.9,1318.0 L1660.6,1319.8 L1662.2,1323.1 L1663.9,1321.1 L1665.6,1321.9 L1667.3,1318.4 L1669.0,1320.6 L1670.7,1322.2 L1672.3,1320.8 L1674.0,1318.8 L1675.7,1319.1 L1677.4,1319.9 L1679.1,1316.5 L1680.8,1321.9 L1682.4,1320.6 L1684.1,1320.3 L1685.8,1321.3 L1687.5,1319.8 L1689.2,1321.7 L1690.9,1318.7 L1692.5,1321.1 L1694.2,1321.6 L1695.9,1321.9 L1697.6,1320.8 L1699.3,1319.9 L1701.0,1320.1 L1702.6,1321.6 L1704.3,1320.4 L1706.0,1322.2 L1707.7,1320.9 L1709.4,1320.1 L1711.0,1320.7 L1712.7,1321.8 L1714.4,1322.3 L1716.1,1320.8 L1717.8,1321.3 L1719.5,1324.0 L1721.1,1322.8 L1722.8,1321.9 L1724.5,1321.4 L1726.2,1321.8 L1727.9,1319.8 L1729.6,1323.4 L1731.2,1319.9 L1732.9,1322.6 L1734.6,1321.6 L1736.3,1322.7 L1738.0,1321.9 L1739.7,1326.2 L1741.3,1320.3 L1743.0,1323.2 L1744.7,1322.7 L1746.4,1325.8 L1748.1,1322.8 L1749.8,1323.7 L1751.4,1321.8 L1753.1,1322.4 L1754.8,1323.7 L1756.5,1325.2 L1758.2,1321.4 L1759.9,1323.9 L1761.5,1322.1 L1763.2,1322.2 L1764.9,1321.6 L1766.6,1325.6 L1768.3,1325.5 L1770.0,1324.6 L1771.6,1325.1 L1773.3,1323.2 L1775.0,1323.8 L1776.7,1323.4 L1778.4,1324.1 L1780.1,1323.8 L1781.7,1323.8 L1783.4,1324.4 L1785.1,1325.4 L1786.8,1322.9 L1788.5,1325.2 L1790.2,1327.0 L1791.8,1327.5 L1793.5,1324.1 L1795.2,1325.4 L1796.9,1325.6 L1798.6,1326.9 L1800.3,1324.7 L1801.9,1323.7 L1803.6,1324.7 L1805.3,1326.6 L1807.0,1325.4 L1808.7,1325.0 L1810.4,1326.6 L1812.0,1327.0 L1813.7,1327.1 L1815.4,1322.9 L1817.1,1323.5 L1818.8,1325.7 L1820.5,1325.3 L1822.1,1324.0 L1823.8,1324.1 L1825.5,1324.7 L1827.2,1326.9 L1828.9,1327.1 L1830.6,1325.9 L1832.2,1324.7 L1833.9,1325.0 L1835.6,1326.1 L1837.3,1327.0 L1839.0,1330.7 L1840.7,1327.3 L1842.3,1325.9 L1844.0,1325.8 L1845.7,1325.4 L1847.4,1324.2 L1849.1,1328.9 L1850.8,1329.7 L1852.4,1325.7 L1854.1,1324.9 L1855.8,1325.1 L1857.5,1325.5 L1859.2,1326.6 L1860.9,1326.9 L1862.5,1323.9 L1864.2,1327.8 L1865.9,1325.2 L1867.6,1327.2 L1869.3,1326.9 L1871.0,1328.4 L1872.6,1327.5 L1874.3,1328.2 L1876.0,1329.6 L1877.7,1328.9 L1879.4,1330.2 L1881.0,1326.4 L1882.7,1329.2 L1884.4,1328.4 L1886.1,1325.6 L1887.8,1327.0 L1889.5,1328.6 L1891.1,1326.7 L1892.8,1327.7 L1894.5,1327.2 L1896.2,1329.4 L1897.9,1327.0 L1899.6,1327.9 L1901.2,1328.8 L1902.9,1332.7 L1904.6,1328.7 L1906.3,1329.6 L1908.0,1328.2 L1909.7,1328.2 L1911.3,1329.6 L1913.0,1326.6 L1914.7,1327.3 L1916.4,1330.4 L1918.1,1326.4 L1919.8,1329.5 L1921.4,1330.6 L1923.1,1328.4 L1924.8,1326.9 L1926.5,1326.4 L1928.2,1329.3 L1929.9,1328.1 L1931.5,1328.3 L1933.2,1326.6 L1934.9,1327.3 L1936.6,1327.9 L1938.3,1328.2 L1940.0,1328.4 L1941.6,1328.5 L1943.3,1329.2 L1945.0,1330.0 L1946.7,1327.2 L1948.4,1329.1 L1950.1,1329.1 L1951.7,1329.9 L1953.4,1329.1 L1955.1,1330.5 L1956.8,1329.3 L1958.5,1330.2 L1960.2,1328.3 L1961.8,1332.7 L1963.5,1328.3 L1965.2,1329.9 L1966.9,1331.8 L1968.6,1329.6 L1970.3,1330.9 L1971.9,1330.0 L1973.6,1330.9 L1975.3,1330.5 L1977.0,1330.8 L1978.7,1331.3 L1980.4,1331.7 L1982.0,1330.1 L1983.7,1329.9 L1985.4,1330.0 L1987.1,1331.6 L1988.8,1331.0 L1990.5,1330.9 L1992.1,1330.9 L1993.8,1331.3 L1995.5,1330.6 L1997.2,1332.0 L1998.9,1330.6 L2000.6,1332.8 L2002.2,1331.7 L2003.9,1332.0 L2005.6,1331.9 L2007.3,1330.0 L2009.0,1333.1 L2010.7,1331.6 L2012.3,1331.3 L2014.0,1330.3 L2015.7,1332.2 L2017.4,1332.4 L2019.1,1331.6 L2020.8,1330.8 L2022.4,1330.1 L2024.1,1328.2 L2025.8,1328.1 L2027.5,1329.2 L2029.2,1329.9 L2030.9,1329.2 L2032.5,1330.2 L2034.2,1331.8 L2035.9,1332.8 L2037.6,1332.6 L2039.3,1333.7 L2040.9,1334.3 L2042.6,1331.8 L2044.3,1334.6 L2046.0,1334.0 L2047.7,1333.3 L2049.4,1333.8 L2051.0,1334.2 L2052.7,1334.6 L2054.4,1334.8 L2056.1,1335.5 L2057.8,1333.6 L2059.5,1332.5 L2061.1,1335.3 L2062.8,1333.3 L2064.5,1333.1 L2066.2,1335.9 L2067.9,1333.0 L2069.6,1333.2 L2071.2,1334.4 L2072.9,1335.3 L2074.6,1333.6 L2076.3,1333.9 L2078.0,1335.4 L2079.7,1337.9 L2081.3,1332.9 L2083.0,1338.1 L2084.7,1334.9 L2086.4,1338.2 L2088.1,1335.5 L2089.8,1335.7 L2091.4,1335.0 L2093.1,1334.5 L2094.8,1334.2 L2096.5,1336.5 L2098.2,1334.0 L2099.9,1334.3 L2101.5,1336.4 L2103.2,1334.7 L2104.9,1336.3 L2106.6,1335.0 L2108.3,1336.9 L2110.0,1335.0 L2111.6,1333.5 L2113.3,1336.0 L2115.0,1335.0 L2116.7,1332.8 L2118.4,1332.2 L2120.1,1337.0 L2121.7,1336.0 L2123.4,1338.5 L2125.1,1337.6 L2126.8,1333.0 L2128.5,1336.0 L2130.2,1336.1 L2131.8,1336.1 L2133.5,1334.0 L2135.2,1337.4 L2136.9,1336.7 L2138.6,1336.0 L2140.3,1336.6 L2141.9,1335.3 L2143.6,1333.5 L2145.3,1336.4 L2147.0,1335.5 L2148.7,1333.7 L2150.4,1335.6 L2152.0,1337.2 L2153.7,1334.8 L2155.4,1334.7 L2157.1,1333.5 L2158.8,1335.9 L2160.5,1334.3 L2162.1,1334.1 L2163.8,1338.6 L2165.5,1336.1 L2167.2,1333.3 L2168.9,1337.1 L2170.6,1334.1 L2172.2,1336.3 L2173.9,1338.0 L2175.6,1339.3 L2177.3,1337.1 L2179.0,1338.0 L2180.7,1333.6 L2182.3,1339.3 L2184.0,1334.8 L2185.7,1336.5 L2187.4,1334.8 L2189.1,1338.3 L2190.8,1335.9 L2192.4,1337.6 L2194.1,1335.3 L2195.8,1334.2 L2197.5,1335.6 L2199.2,1336.3 L2200.9,1335.2 L2202.5,1335.5 L2204.2,1337.4 L2205.9,1339.5 L2207.6,1337.1 L2209.3,1339.7 L2210.9,1337.7 L2212.6,1333.2 L2214.3,1334.4 L2216.0,1337.4 L2217.7,1336.1 L2219.4,1334.3 L2221.0,1336.7 L2222.7,1339.3 L2224.4,1339.1 L2226.1,1334.8 L2227.8,1334.7 L2229.5,1335.0 L2231.1,1336.0 L2232.8,1336.3 L2234.5,1336.4 L2236.2,1337.3 L2237.9,1336.4 L2239.6,1336.1 L2241.2,1338.3 L2242.9,1334.0 L2244.6,1336.0 L2246.3,1335.6 L2248.0,1337.9 L2249.7,1336.9 L2251.3,1337.5 L2253.0,1338.6 L2254.7,1337.9 L2256.4,1333.9 L2258.1,1336.5 L2259.8,1336.0 L2261.4,1336.8 L2263.1,1336.9 L2264.8,1338.1 L2266.5,1336.4 L2268.2,1338.3 L2269.9,1336.6 L2271.5,1339.1 L2273.2,1338.3 L2274.9,1337.8 L2276.6,1336.6 L2278.3,1338.9 L2280.0,1337.1 L2281.6,1336.8 L2283.3,1336.3 L2285.0,1337.2 L2286.7,1337.2 L2288.4,1337.6 L2290.1,1339.2 L2291.7,1336.9 L2293.4,1338.3 L2295.1,1337.4 L2296.8,1335.4 L2298.5,1336.5 L2300.2,1337.3 L2301.8,1338.0 L2303.5,1338.5 L2305.2,1339.5 L2306.9,1337.6 L2308.6,1335.7 L2310.3,1337.2 L2311.9,1339.0 L2313.6,1336.4 L2315.3,1339.1 L2317.0,1339.0 L2318.7,1336.5 L2320.4,1337.0 L2322.0,1335.7 L2323.7,1339.5 L2325.4,1337.5 L2327.1,1337.7 L2328.8,1338.2 L2330.5,1338.1 L2332.1,1340.7 L2333.8,1338.1 L2335.5,1339.5 L2337.2,1338.0 L2338.9,1339.5 L2340.6,1337.1 L2342.2,1337.8 L2343.9,1338.4 L2345.6,1338.3 L2347.3,1339.3 L2349.0,1336.8 L2350.7,1337.7 L2352.3,1338.3 L2354.0,1338.5 L2355.7,1338.5 L2357.4,1338.2 L2359.1,1339.1 L2360.8,1340.4 L2362.4,1341.3 L2364.1,1340.6 L2365.8,1337.3 L2367.5,1339.7 L2369.2,1337.8 L2370.9,1336.7 L2372.5,1338.4 L2374.2,1339.0 L2375.9,1338.8" stroke="#0000ff"/>
<path d="M426.8,1319.1 L428.5,1318.6 L430.2,1318.4 L431.8,1318.5 L433.5,1319.0 L435.2,1318.2 L436.9,1318.4 L438.6,1318.4 L440.3,1318.3 L441.9,1318.2 L443.6,1317.8 L445.3,1318.8 L447.0,1318.5 L448.7,1317.9 L450.4,1319.0 L452.0,1318.4 L453.7,1318.8 L455.4,1318.5 L457.1,1318.3 L458.8,1319.2 L460.5,1318.8 L462.1,1319.0 L463.8,1318.5 L465.5,1318.7 L467.2,1317.9 L468.9,1318.6 L470.6,1317.8 L472.2,1318.5 L473.9,1318.3 L475.6,1318.3 L477.3,1318.3 L479.0,1318.7 L480.7,1318.2 L482.3,1318.2 L484.0,1318.2 L485.7,1318.1 L487.4,1318.6 L489.1,1318.4 L490.8,1318.5 L492.4,1318.9 L494.1,1318.1 L495.8,1318.4 L497.5,1318.2 L499.2,1317.4 L500.9,1318.1 L502.5,1318.1 L504.2,1317.8 L505.9,1317.7 L507.6,1317.5 L509.3,1318.3 L511.0,1317.5 L512.6,1318.2 L514.3,1318.5 L516.0,1318.4 L517.7,1317.7 L519.4,1317.8 L521.1,1317.6 L522.7,1318.4 L524.4,1318.2 L526.1,1318.5 L527.8,1318.7 L529.5,1318.0 L531.1,1317.4 L532.8,1317.6 L534.5,1318.3 L536.2,1317.5 L537.9,1318.2 L539.6,1317.8 L541.2,1317.6 L542.9,1318.1 L544.6,1318.2 L546.3,1317.7 L548.0,1318.0 L549.7,1318.1 L551.3,1317.6 L553.0,1317.9 L554.7,1317.7 L556.4,1318.2 L558.1,1317.6 L559.8,1318.2 L561.4,1318.0 L563.1,1318.5 L564.8,1317.4 L566.5,1317.8 L568.2,1317.6 L569.9,1318.4 L571.5,1317.7 L573.2,1317.9 L574.9,1317.3 L576.6,1318.3 L578.3,1317.6 L580.0,1317.3 L581.6,1318.1 L583.3,1317.7 L585.0,1318.1 L586.7,1317.7 L588.4,1317.5 L590.1,1317.2 L591.7,1317.6 L593.4,1317.9 L595.1,1317.4 L596.8,1317.6 L598.5,1317.2 L600.2,1317.8 L601.8,1317.1 L603.5,1317.5 L605.2,1317.5 L606.9,1317.2 L608.6,1317.7 L610.3,1317.7 L611.9,1317.3 L613.6,1317.5 L615.3,1317.5 L617.0,1317.6 L618.7,1317.6 L620.4,1317.2 L622.0,1316.7 L623.7,1318.0 L625.4,1316.9 L627.1,1317.2 L628.8,1317.0 L630.5,1317.3 L632.1,1317.7 L633.8,1317.5 L635.5,1317.7 L637.2,1318.0 L638.9,1317.4 L640.6,1317.2 L642.2,1317.4 L643.9,1317.2 L645.6,1317.9 L647.3,1316.9 L649.0,1317.3 L650.7,1317.2 L652.3,1317.0 L654.0,1317.4 L655.7,1316.4 L657.4,1316.8 L659.1,1316.7 L660.8,1317.1 L662.4,1317.4 L664.1,1317.0 L665.8,1317.4 L667.5,1317.0 L669.2,1317.0 L670.9,1316.6 L672.5,1316.9 L674.2,1317.0 L675.9,1316.5 L677.6,1317.1 L679.3,1317.2 L681.0,1317.2 L682.6,1316.4 L684.3,1316.9 L686.0,1317.1 L687.7,1317.6 L689.4,1317.3 L691.1,1316.8 L692.7,1316.6 L694.4,1316.2 L696.1,1317.1 L697.8,1316.6 L699.5,1316.3 L701.1,1317.6 L702.8,1315.9 L704.5,1317.1 L706.2,1317.1 L707.9,1316.3 L709.6,1316.5 L711.2,1316.2 L712.9,1316.4 L714.6,1316.5 L716.3,1316.6 L718.0,1316.8 L719.7,1316.3 L721.3,1317.2 L723.0,1316.5 L724.7,1316.2 L726.4,1316.8 L728.1,1316.1 L729.8,1316.0 L731.4,1316.3 L733.1,1316.4 L734.8,1316.1 L736.5,1316.0 L738.2,1316.3 L739.9,1315.5 L741.5,1315.6 L743.2,1315.8 L744.9,1315.6 L746.6,1315.7 L748.3,1316.6 L750.0,1315.2 L751.6,1316.6 L753.3,1316.0 L755.0,1316.4 L756.7,1315.7 L758.4,1315.8 L760.1,1315.8 L761.7,1316.7 L763.4,1315.6 L765.1,1315.8 L766.8,1316.6 L768.5,1315.2 L770.2,1315.8 L771.8,1316.0 L773.5,1315.6 L775.2,1315.9 L776.9,1315.5 L778.6,1315.8 L780.3,1315.9 L781.9,1316.0 L783.6,1315.3 L785.3,1315.5 L787.0,1315.8 L788.7,1315.7 L790.4,1315.8 L792.0,1314.6 L793.7,1315.3 L795.4,1315.3 L797.1,1314.8 L798.8,1315.6 L800.5,1315.7 L802.1,1315.4 L803.8,1315.2 L805.5,1315.3 L807.2,1315.3 L808.9,1315.1 L810.6,1315.3 L812.2,1315.5 L813.9,1314.8 L815.6,1315.1 L817.3,1315.1 L819.0,1314.8 L820.7,1314.8 L822.3,1315.3 L824.0,1315.2 L825.7,1315.4 L827.4,1315.3 L829.1,1314.7 L830.8,1315.0 L832.4,1315.1 L834.1,1315.2 L835.8,1314.2 L837.5,1314.8 L839.2,1314.5 L840.9,1314.6 L842.5,1314.9 L844.2,1314.3 L845.9,1314.4 L847.6,1313.9 L849.3,1314.2 L851.0,1314.8 L852.6,1314.3 L854.3,1314.3 L856.0,1314.2 L857.7,1314.6 L859.4,1314.7 L861.1,1314.1 L862.7,1313.9 L864.4,1314.4 L866.1,1313.2 L867.8,1313.6 L869.5,1314.0 L871.1,1313.0 L872.8,1314.2 L874.5,1314.0 L876.2,1313.9 L877.9,1313.1 L879.6,1313.7 L881.2,1313.1 L882.9,1313.2 L884.6,1313.5 L886.3,1313.1 L888.0,1313.6 L889.7,1312.8 L891.3,1313.4 L893.0,1313.3 L894.7,1312.6 L896.4,1313.0 L898.1,1312.1 L899.8,1312.2 L901.4,1313.2 L903.1,1312.5 L904.8,1312.6 L906.5,1311.7 L908.2,1312.6 L909.9,1312.6 L911.5,1312.3 L913.2,1312.3 L914.9,1312.5 L916.6,1312.0 L918.3,1312.2 L920.0,1312.3 L921.6,1311.4 L923.3,1311.8 L925.0,1312.2 L926.7,1312.2 L928.4,1311.8 L930.1,1312.0 L931.7,1312.0 L933.4,1311.1 L935.1,1311.4 L936.8,1311.5 L938.5,1311.2 L940.2,1311.4 L941.8,1311.1 L943.5,1310.4 L945.2,1311.0 L946.9,1311.1 L948.6,1311.2 L950.3,1310.5 L951.9,1310.7 L953.6,1310.4 L955.3,1311.0 L957.0,1310.5 L958.7,1310.2 L960.4,1310.0 L962.0,1310.0 L963.7,1310.1 L965.4,1309.4 L967.1,1309.8 L968.8,1310.4 L970.5,1309.9 L972.1,1309.3 L973.8,1309.1 L975.5,1309.4 L977.2,1309.2 L978.9,1308.4 L980.6,1308.2 L982.2,1308.0 L983.9,1307.6 L985.6,1307.6 L987.3,1307.7 L989.0,1306.7 L990.7,1306.5 L992.3,1306.0 L994.0,1306.1 L995.7,1306.0 L997.4,1305.7 L999.1,1305.4 L1000.8,1305.9 L1002.4,1305.0 L1004.1,1304.8 L1005.8,1304.2 L1007.5,1304.0 L1009.2,1303.9 L1010.9,1303.7 L1012.5,1303.7 L1014.2,1302.9 L1015.9,1302.9 L1017.6,1302.6 L1019.3,1301.9 L1021.0,1301.6 L1022.6,1301.9 L1024.3,1301.0 L1026.0,1301.1 L1027.7,1301.1 L1029.4,1301.3 L1031.0,1301.1 L1032.7,1300.3 L1034.4,1301.2 L1036.1,1299.6 L1037.8,1299.8 L1039.5,1300.0 L1041.1,1299.1 L1042.8,1299.4 L1044.5,1299.7 L1046.2,1299.3 L1047.9,1299.3 L1049.6,1299.1 L1051.2,1297.7 L1052.9,1298.2 L1054.6,1298.1 L1056.3,1297.5 L1058.0,1297.3 L1059.7,1297.5 L1061.3,1297.4 L1063.0,1297.5 L1064.7,1296.2 L1066.4,1296.3 L1068.1,1295.6 L1069.8,1295.6 L1071.4,1295.8 L1073.1,1295.2 L1074.8,1294.1 L1076.5,1294.6 L1078.2,1293.8 L1079.9,1294.5 L1081.5,1293.6 L1083.2,1292.6 L1084.9,1293.2 L1086.6,1291.8 L1088.3,1292.0 L1090.0,1291.5 L1091.6,1290.2 L1093.3,1290.4 L1095.0,1289.3 L1096.7,1289.3 L1098.4,1288.3 L1100.1,1287.4 L1101.7,1286.6 L1103.4,1286.2 L1105.1,1286.3 L1106.8,1284.6 L1108.5,1284.7 L1110.2,1282.7 L1111.8,1282.9 L1113.5,1282.3 L1115.2,1281.1 L1116.9,1280.3 L1118.6,1278.9 L1120.3,1279.5 L1121.9,1278.2 L1123.6,1276.9 L1125.3,1276.2 L1127.0,1276.0 L1128.7,1274.7 L1130.4,1272.7 L1132.0,1272.2 L1133.7,1271.5 L1135.4,1270.5 L1137.1,1269.5 L1138.8,1269.4 L1140.5,1266.5 L1142.1,1265.5 L1143.8,1264.0 L1145.5,1262.4 L1147.2,1261.5 L1148.9,1259.9 L1150.6,1257.8 L1152.2,1255.8 L1153.9,1254.1 L1155.6,1252.4 L1157.3,1249.9 L1159.0,1246.7 L1160.7,1244.9 L1162.3,1242.4 L1164.0,1239.2 L1165.7,1236.1 L1167.4,1233.7 L1169.1,1230.6 L1170.8,1226.2 L1172.4,1221.1 L1174.1,1216.6 L1175.8,1213.1 L1177.5,1209.7 L1179.2,1204.3 L1180.9,1198.7 L1182.5,1192.9 L1184.2,1186.1 L1185.9,1178.1 L1187.6,1171.3 L1189.3,1162.6 L1191.0,1154.8 L1192.6,1143.1 L1194.3,1132.0 L1196.0,1121.7 L1197.7,1111.9 L1199.4,1098.8 L1201.0,1082.6 L1202.7,1063.8 L1204.4,1046.1 L1206.1,1027.2 L1207.8,1005.1 L1209.5,979.7 L1211.1,953.4 L1212.8,922.4 L1214.5,889.0 L1216.2,850.3 L1217.9,810.5 L1219.6,768.2 L1221.2,718.7 L1222.9,661.2 L1224.6,601.6 L1226.3,539.0 L1228.0,473.6 L1229.7,410.1 L1231.3,345.1 L1233.0,285.5 L1234.7,232.4 L1236.4,191.0 L1238.1,164.5 L1239.8,155.6 L1241.4,162.4 L1243.1,186.9 L1244.8,226.2 L1246.5,278.1 L1248.2,337.9 L1249.9,402.6 L1251.5,469.3 L1253.2,534.1 L1254.9,598.6 L1256.6,659.2 L1258.3,713.8 L1260.0,766.9 L1261.6,814.1 L1263.3,855.0 L1265.0,892.4 L1266.7,927.5 L1268.4,957.7 L1270.1,986.6 L1271.7,1013.6 L1273.4,1037.7 L1275.1,1058.6 L1276.8,1078.2 L1278.5,1096.0 L1280.2,1109.9 L1281.8,1123.2 L1283.5,1136.0 L1285.2,1148.0 L1286.9,1159.8 L1288.6,1170.3 L1290.3,1179.5 L1291.9,1188.4 L1293.6,1195.6 L1295.3,1201.2 L1297.0,1207.1 L1298.7,1213.4 L1300.4,1217.6 L1302.0,1221.6 L1303.7,1226.9 L1305.4,1230.7 L1307.1,1234.7 L1308.8,1238.4 L1310.5,1241.1 L1312.1,1244.3 L1313.8,1247.9 L1315.5,1250.6 L1317.2,1252.8 L1318.9,1255.1 L1320.6,1258.2 L1322.2,1259.3 L1323.9,1262.3 L1325.6,1264.0 L1327.3,1266.6 L1329.0,1268.1 L1330.7,1269.6 L1332.3,1271.4 L1334.0,1273.3 L1335.7,1276.7 L1337.4,1278.0 L1339.1,1280.5 L1340.8,1281.6 L1342.4,1282.3 L1344.1,1283.4 L1345.8,1284.9 L1347.5,1286.5 L1349.2,1287.1 L1350.9,1287.5 L1352.5,1289.2 L1354.2,1290.5 L1355.9,1290.6 L1357.6,1291.6 L1359.3,1293.1 L1361.0,1293.2 L1362.6,1294.9 L1364.3,1295.0 L1366.0,1295.2 L1367.7,1296.9 L1369.4,1297.2 L1371.0,1297.7 L1372.7,1297.4 L1374.4,1298.6 L1376.1,1299.0 L1377.8,1299.4 L1379.5,1299.7 L1381.1,1300.4 L1382.8,1301.5 L1384.5,1302.4 L1386.2,1301.8 L1387.9,1302.5 L1389.6,1302.6 L1391.2,1303.3 L1392.9,1303.3 L1394.6,1303.0 L1396.3,1304.2 L1398.0,1304.0 L1399.7,1304.8 L1401.3,1304.0 L1403.0,1304.7 L1404.7,1305.4 L1406.4,1306.0 L1408.1,1305.6 L1409.8,1305.9 L1411.4,1306.3 L1413.1,1306.0 L1414.8,1307.1 L1416.5,1306.7 L1418.2,1306.6 L1419.9,1307.6 L1421.5,1307.2 L1423.2,1307.1 L1424.9,1308.3 L1426.6,1308.2 L1428.3,1308.6 L1430.0,1308.1 L1431.6,1307.8 L1433.3,1309.2 L1435.0,1308.9 L1436.7,1308.3 L1438.4,1309.5 L1440.1,1309.3 L1441.7,1309.5 L1443.4,1310.1 L1445.1,1309.8 L1446.8,1310.1 L1448.5,1310.5 L1450.2,1310.7 L1451.8,1310.3 L1453.5,1310.9 L1455.2,1311.3 L1456.9,1311.4 L1458.6,1311.2 L1460.3,1311.3 L1461.9,1312.1 L1463.6,1311.4 L1465.3,1312.3 L1467.0,1312.6 L1468.7,1312.2 L1470.4,1312.0 L1472.0,1311.9 L1473.7,1312.7 L1475.4,1312.5 L1477.1,1312.1 L1478.8,1312.5 L1480.5,1312.1 L1482.1,1312.3 L1483.8,1313.1 L1485.5,1312.9 L1487.2,1312.3 L1488.9,1313.5 L1490.6,1312.3 L1492.2,1312.7 L1493.9,1313.0 L1495.6,1311.9 L1497.3,1313.1 L1499.0,1313.1 L1500.7,1313.0 L1502.3,1313.1 L1504.0,1312.8 L1505.7,1312.9 L1507.4,1313.9 L1509.1,1312.7 L1510.8,1312.8 L1512.4,1312.9 L1514.1,1313.1 L1515.8,1313.9 L1517.5,1313.1 L1519.2,1313.6 L1520.9,1313.9 L1522.5,1313.5 L1524.2,1313.3 L1525.9,1314.0 L1527.6,1314.1 L1529.3,1313.5 L1531.0,1313.4 L1532.6,1314.0 L1534.3,1313.8 L1536.0,1313.9 L1537.7,1313.5 L1539.4,1313.9 L1541.0,1314.7 L1542.7,1314.4 L1544.4,1313.7 L1546.1,1313.7 L1547.8,1313.7 L1549.5,1314.3 L1551.1,1314.6 L1552.8,1314.1 L1554.5,1314.4 L1556.2,1314.5 L1557.9,1314.7 L1559.6,1314.4 L1561.2,1314.9 L1562.9,1314.8 L1564.6,1313.9 L1566.3,1314.7 L1568.0,1314.3 L1569.7,1314.7 L1571.3,1314.7 L1573.0,1314.8 L1574.7,1314.1 L1576.4,1314.9 L1578.1,1315.0 L1579.8,1315.2 L1581.4,1315.6 L1583.1,1315.1 L1584.8,1316.0 L1586.5,1316.3 L1588.2,1315.8 L1589.9,1315.8 L1591.5,1316.4 L1593.2,1315.9 L1594.9,1316.1 L1596.6,1316.7 L1598.3,1316.9 L1600.0,1316.0 L1601.6,1316.2 L1603.3,1315.9 L1605.0,1316.7 L1606.7,1315.8 L1608.4,1316.2 L1610.1,1316.1 L1611.7,1315.6 L1613.4,1316.4 L1615.1,1316.4 L1616.8,1316.6 L1618.5,1317.0 L1620.2,1316.5 L1621.8,1317.0 L1623.5,1316.9 L1625.2,1317.2 L1626.9,1316.3 L1628.6,1316.6 L1630.3,1316.2 L1631.9,1316.8 L1633.6,1316.8 L1635.3,1316.9 L1637.0,1317.0 L1638.7,1316.1 L1640.4,1317.6 L1642.0,1316.3 L1643.7,1316.4 L1645.4,1317.0 L1647.1,1316.8 L1648.8,1316.3 L1650.5,1316.9 L1652.1,1317.7 L1653.8,1317.2 L1655.5,1316.5 L1657.2,1317.3 L1658.9,1316.5 L1660.6,1317.2 L1662.2,1316.8 L1663.9,1317.2 L1665.6,1317.3 L1667.3,1317.2 L1669.0,1317.9 L1670.7,1316.9 L1672.3,1318.0 L1674.0,1317.2 L1675.7,1317.6 L1677.4,1317.1 L1679.1,1316.8 L1680.8,1317.3 L1682.4,1317.4 L1684.1,1317.2 L1685.8,1317.2 L1687.5,1317.0 L1689.2,1317.6 L1690.9,1317.0 L1692.5,1317.8 L1694.2,1317.5 L1695.9,1316.7 L1697.6,1317.4 L1699.3,1317.2 L1701.0,1317.4 L1702.6,1317.5 L1704.3,1316.9 L1706.0,1317.7 L1707.7,1318.3 L1709.4,1317.9 L1711.0,1317.8 L1712.7,1318.1 L1714.4,1318.2 L1716.1,1317.6 L1717.8,1317.9 L1719.5,1317.6 L1721.1,1318.2 L1722.8,1318.8 L1724.5,1318.6 L1726.2,1318.7 L1727.9,1318.8 L1729.6,1318.5 L1731.2,1319.5 L1732.9,1319.0 L1734.6,1318.5 L1736.3,1319.6 L1738.0,1319.0 L1739.7,1319.3 L1741.3,1320.1 L1743.0,1319.9 L1744.7,1319.1 L1746.4,1320.0 L1748.1,1319.8 L1749.8,1320.0 L1751.4,1320.5 L1753.1,1319.7 L1754.8,1320.0 L1756.5,1320.3 L1758.2,1320.6 L1759.9,1321.0 L1761.5,1321.2 L1763.2,1320.6 L1764.9,1321.8 L1766.6,1320.8 L1768.3,1321.2 L1770.0,1321.3 L1771.6,1321.6 L1773.3,1322.0 L1775.0,1322.1 L1776.7,1322.0 L1778.4,1321.8 L1780.1,1321.6 L1781.7,1322.1 L1783.4,1322.1 L1785.1,1322.7 L1786.8,1322.1 L1788.5,1322.4 L1790.2,1322.0 L1791.8,1322.4 L1793.5,1322.8 L1795.2,1323.3 L1796.9,1322.4 L1798.6,1323.3 L1800.3,1323.0 L1801.9,1322.8 L1803.6,1322.9 L1805.3,1323.7 L1807.0,1323.7 L1808.7,1323.0 L1810.4,1323.2 L1812.0,1322.7 L1813.7,1323.9 L1815.4,1324.3 L1817.1,1324.2 L1818.8,1324.1 L1820.5,1324.0 L1822.1,1323.8 L1823.8,1323.9 L1825.5,1324.1 L1827.2,1324.4 L1828.9,1324.0 L1830.6,1324.4 L1832.2,1323.9 L1833.9,1324.4 L1835.6,1324.6 L1837.3,1323.9 L1839.0,1324.0 L1840.7,1323.9 L1842.3,1324.8 L1844.0,1324.2 L1845.7,1324.1 L1847.4,1324.5 L1849.1,1325.0 L1850.8,1324.7 L1852.4,1324.5 L1854.1,1324.7 L1855.8,1324.7 L1857.5,1324.4 L1859.2,1324.1 L1860.9,1324.2 L1862.5,1325.2 L1864.2,1325.4 L1865.9,1324.3 L1867.6,1324.4 L1869.3,1324.9 L1871.0,1325.5 L1872.6,1324.4 L1874.3,1325.1 L1876.0,1325.3 L1877.7,1325.1 L1879.4,1325.0 L1881.0,1325.6 L1882.7,1325.5 L1884.4,1325.1 L1886.1,1325.0 L1887.8,1325.6 L1889.5,1324.3 L1891.1,1324.7 L1892.8,1325.0 L1894.5,1324.9 L1896.2,1326.0 L1897.9,1325.2 L1899.6,1325.1 L1901.2,1325.2 L1902.9,1325.2 L1904.6,1325.1 L1906.3,1324.8 L1908.0,1325.0 L1909.7,1325.6 L1911.3,1325.1 L1913.0,1325.7 L1914.7,1325.4 L1916.4,1325.4 L1918.1,1325.6 L1919.8,1325.7 L1921.4,1325.6 L1923.1,1325.6 L1924.8,1326.6 L1926.5,1325.8 L1928.2,1326.1 L1929.9,1325.3 L1931.5,1325.8 L1933.2,1326.2 L1934.9,1325.8 L1936.6,1326.0 L1938.3,1325.8 L1940.0,1326.8 L1941.6,1326.3 L1943.3,1326.5 L1945.0,1325.7 L1946.7,1326.0 L1948.4,1326.4 L1950.1,1326.4 L1951.7,1326.5 L1953.4,1326.7 L1955.1,1326.9 L1956.8,1327.1 L1958.5,1326.3 L1960.2,1327.1 L1961.8,1326.7 L1963.5,1326.6 L1965.2,1326.8 L1966.9,1327.1 L1968.6,1326.9 L1970.3,1327.4 L1971.9,1327.6 L1973.6,1327.0 L1975.3,1327.2 L1977.0,1327.0 L1978.7,1327.5 L1980.4,1328.3 L1982.0,1327.8 L1983.7,1327.9 L1985.4,1327.4 L1987.1,1328.1 L1988.8,1327.5 L1990.5,1327.8 L1992.1,1327.8 L1993.8,1327.9 L1995.5,1327.8 L1997.2,1328.5 L1998.9,1327.7 L2000.6,1328.8 L2002.2,1328.5 L2003.9,1328.5 L2005.6,1328.0 L2007.3,1328.7 L2009.0,1327.8 L2010.7,1328.8 L2012.3,1327.7 L2014.0,1328.3 L2015.7,1328.3 L2017.4,1328.5 L2019.1,1328.3 L2020.8,1329.0 L2022.4,1329.2 L2024.1,1328.4 L2025.8,1328.6 L2027.5,1328.9 L2029.2,1329.0 L2030.9,1328.9 L2032.5,1328.9 L2034.2,1328.6 L2035.9,1329.1 L2037.6,1328.9 L2039.3,1328.6 L2040.9,1329.1 L2042.6,1328.8 L2044.3,1329.3 L2046.0,1329.0 L2047.7,1329.2 L2049.4,1328.7 L2051.0,1329.2 L2052.7,1329.5 L2054.4,1329.0 L2056.1,1329.3 L2057.8,1328.7 L2059.5,1329.0 L2061.1,1329.3 L2062.8,1329.6 L2064.5,1329.2 L2066.2,1329.3 L2067.9,1329.3 L2069.6,1329.2 L2071.2,1328.4 L2072.9,1329.6 L2074.6,1329.2 L2076.3,1329.0 L2078.0,1328.9 L2079.7,1329.4 L2081.3,1329.2 L2083.0,1329.4 L2084.7,1328.6 L2086.4,1329.6 L2088.1,1329.3 L2089.8,1329.6 L2091.4,1329.1 L2093.1,1329.7 L2094.8,1328.8 L2096.5,1329.6 L2098.2,1329.5 L2099.9,1329.5 L2101.5,1329.3 L2103.2,1329.7 L2104.9,1330.1 L2106.6,1330.2 L2108.3,1329.6 L2110.0,1329.1 L2111.6,1329.1 L2113.3,1329.3 L2115.0,1329.2 L2116.7,1329.5 L2118.4,1329.6 L2120.1,1329.3 L2121.7,1329.0 L2123.4,1329.0 L2125.1,1329.4 L2126.8,1330.1 L2128.5,1329.8 L2130.2,1330.4 L2131.8,1329.2 L2133.5,1329.6 L2135.2,1329.1 L2136.9,1329.1 L2138.6,1329.7 L2140.3,1329.4 L2141.9,1329.7 L2143.6,1330.2 L2145.3,1329.5 L2147.0,1329.6 L2148.7,1329.6 L2150.4,1329.1 L2152.0,1330.0 L2153.7,1330.2 L2155.4,1329.3 L2157.1,1329.3 L2158.8,1329.5 L2160.5,1329.7 L2162.1,1329.6 L2163.8,1329.6 L2165.5,1329.7 L2167.2,1329.8 L2168.9,1329.3 L2170.6,1329.9 L2172.2,1330.2 L2173.9,1329.7 L2175.6,1330.0 L2177.3,1330.1 L2179.0,1329.6 L2180.7,1330.2 L2182.3,1330.1 L2184.0,1330.0 L2185.7,1330.1 L2187.4,1330.0 L2189.1,1330.0 L2190.8,1330.3 L2192.4,1330.3 L2194.1,1329.1 L2195.8,1329.8 L2197.5,1330.0 L2199.2,1329.7 L2200.9,1329.8 L2202.5,1329.8 L2204.2,1330.0 L2205.9,1330.0 L2207.6,1330.1 L2209.3,1329.3 L2210.9,1330.0 L2212.6,1329.8 L2214.3,1329.7 L2216.0,1330.6 L2217.7,1329.5 L2219.4,1329.9 L2221.0,1330.6 L2222.7,1329.4 L2224.4,1329.6 L2226.1,1329.9 L2227.8,1330.2 L2229.5,1330.3 L2231.1,1330.1 L2232.8,1330.2 L2234.5,1329.7 L2236.2,1329.8 L2237.9,1329.6 L2239.6,1330.0 L2241.2,1330.1 L2242.9,1330.1 L2244.6,1330.2 L2246.3,1330.1 L2248.0,1329.9 L2249.7,1330.0 L2251.3,1330.1 L2253.0,1329.2 L2254.7,1330.1 L2256.4,1330.0 L2258.1,1330.2 L2259.8,1329.8 L2261.4,1329.8 L2263.1,1330.1 L2264.8,1329.8 L2266.5,1329.9 L2268.2,1330.6 L2269.9,1330.6 L2271.5,1330.5 L2273.2,1330.1 L2274.9,1330.4 L2276.6,1330.8 L2278.3,1330.4 L2280.0,1330.2 L2281.6,1330.2 L2283.3,1330.2 L2285.0,1330.3 L2286.7,1330.2 L2288.4,1330.3 L2290.1,1330.5 L2291.7,1330.7 L2293.4,1330.3 L2295.1,1330.1 L2296.8,1330.5 L2298.5,1330.5 L2300.2,1330.0 L2301.8,1329.7 L2303.5,1329.8 L2305.2,1330.5 L2306.9,1330.6 L2308.6,1330.4 L2310.3,1330.2 L2311.9,1330.2 L2313.6,1331.0 L2315.3,1329.9 L2317.0,1330.0 L2318.7,1330.5 L2320.4,1330.2 L2322.0,1330.6 L2323.7,1330.4 L2325.4,1329.8 L2327.1,1330.8 L2328.8,1330.6 L2330.5,1330.6 L2332.1,1330.5 L2333.8,1330.3 L2335.5,1330.4 L2337.2,1329.7 L2338.9,1330.7 L2340.6,1330.1 L2342.2,1330.5 L2343.9,1330.3 L2345.6,1330.5 L2347.3,1330.5 L2349.0,1330.6 L2350.7,1330.5 L2352.3,1330.8 L2354.0,1330.7 L2355.7,1331.3 L2357.4,1330.6 L2359.1,1330.8 L2360.8,1330.6 L2362.4,1330.8 L2364.1,1330.1 L2365.8,1330.5 L2367.5,1330.5 L2369.2,1330.0 L2370.9,1330.9 L2372.5,1330.4 L2374.2,1331.0 L2375.9,1330.8" stroke="#000000"/>
<path d="M426.8,1329.6 L428.5,1330.5 L430.2,1328.4 L431.8,1328.2 L433.5,1328.9 L435.2,1328.3 L436.9,1327.2 L438.6,1327.6 L440.3,1327.9 L441.9,1327.8 L443.6,1328.9 L445.3,1327.4 L447.0,1329.4 L448.7,1328.3 L450.4,1328.3 L452.0,1329.3 L453.7,1327.9 L455.4,1326.5 L457.1,1328.0 L458.8,1328.6 L460.5,1327.7 L462.1,1326.9 L463.8,1327.3 L465.5,1327.4 L467.2,1328.4 L468.9,1326.9 L470.6,1326.8 L472.2,1326.1 L473.9,1325.9 L475.6,1326.5 L477.3,1328.3 L479.0,1328.0 L480.7,1327.7 L482.3,1326.6 L484.0,1327.4 L485.7,1325.7 L487.4,1326.5 L489.1,1326.3 L490.8,1326.0 L492.4,1326.2 L494.1,1327.6 L495.8,1324.6 L497.5,1325.2 L499.2,1325.1 L500.9,1326.9 L502.5,1327.7 L504.2,1327.4 L505.9,1327.0 L507.6,1325.4 L509.3,1325.4 L511.0,1324.9 L512.6,1324.4 L514.3,1325.6 L516.0,1325.7 L517.7,1326.2 L519.4,1326.2 L521.1,1326.8 L522.7,1325.5 L524.4,1325.6 L526.1,1326.1 L527.8,1326.4 L529.5,1325.4 L531.1,1324.8 L532.8,1325.7 L534.5,1325.5 L536.2,1326.2 L537.9,1325.9 L539.6,1326.0 L541.2,1325.9 L542.9,1326.2 L544.6,1325.4 L546.3,1324.7 L548.0,1326.4 L549.7,1324.6 L551.3,1325.9 L553.0,1325.9 L554.7,1327.3 L556.4,1327.4 L558.1,1325.0 L559.8,1326.4 L561.4,1324.9 L563.1,1325.5 L564.8,1325.4 L566.5,1324.5 L568.2,1325.6 L569.9,1327.3 L571.5,1326.9 L573.2,1324.7 L574.9,1323.9 L576.6,1325.6 L578.3,1326.0 L580.0,1326.5 L581.6,1325.0 L583.3,1326.8 L585.0,1326.4 L586.7,1325.3 L588.4,1325.3 L590.1,1325.6 L591.7,1324.6 L593.4,1326.3 L595.1,1326.3 L596.8,1325.7 L598.5,1325.3 L600.2,1325.6 L601.8,1323.8 L603.5,1325.8 L605.2,1324.8 L606.9,1325.7 L608.6,1325.0 L610.3,1325.6 L611.9,1325.6 L613.6,1324.0 L615.3,1325.5 L617.0,1323.9 L618.7,1325.8 L620.4,1325.6 L622.0,1324.3 L623.7,1327.0 L625.4,1326.5 L627.1,1325.1 L628.8,1324.8 L630.5,1324.7 L632.1,1325.4 L633.8,1326.2 L635.5,1324.4 L637.2,1324.7 L638.9,1325.9 L640.6,1325.0 L642.2,1323.6 L643.9,1324.9 L645.6,1325.9 L647.3,1325.3 L649.0,1325.3 L650.7,1324.7 L652.3,1324.2 L654.0,1325.7 L655.7,1325.4 L657.4,1324.1 L659.1,1324.3 L660.8,1323.8 L662.4,1326.0 L664.1,1325.6 L665.8,1324.0 L667.5,1325.5 L669.2,1324.5 L670.9,1324.8 L672.5,1325.3 L674.2,1323.5 L675.9,1324.6 L677.6,1325.0 L679.3,1324.7 L681.0,1324.3 L682.6,1325.7 L684.3,1325.1 L686.0,1325.4 L687.7,1326.0 L689.4,1323.5 L691.1,1323.1 L692.7,1323.2 L694.4,1325.5 L696.1,1323.8 L697.8,1323.5 L699.5,1324.4 L701.1,1323.2 L702.8,1324.7 L704.5,1324.6 L706.2,1324.4 L707.9,1324.2 L709.6,1324.4 L711.2,1322.7 L712.9,1324.3 L714.6,1323.7 L716.3,1323.8 L718.0,1321.5 L719.7,1323.9 L721.3,1322.7 L723.0,1321.6 L724.7,1323.9 L726.4,1323.5 L728.1,1323.0 L729.8,1323.7 L731.4,1321.6 L733.1,1322.9 L734.8,1321.6 L736.5,1321.9 L738.2,1322.2 L739.9,1321.4 L741.5,1322.3 L743.2,1321.2 L744.9,1323.0 L746.6,1322.4 L748.3,1320.8 L750.0,1323.3 L751.6,1321.2 L753.3,1321.8 L755.0,1321.8 L756.7,1321.8 L758.4,1320.2 L760.1,1322.3 L761.7,1320.4 L763.4,1320.6 L765.1,1321.2 L766.8,1320.8 L768.5,1320.1 L770.2,1321.0 L771.8,1321.7 L773.5,1320.2 L775.2,1321.0 L776.9,1320.5 L778.6,1320.1 L780.3,1319.4 L781.9,1318.5 L783.6,1319.6 L785.3,1319.7 L787.0,1319.0 L788.7,1319.3 L790.4,1320.8 L792.0,1319.8 L793.7,1320.3 L795.4,1318.7 L797.1,1318.1 L798.8,1318.7 L800.5,1319.7 L802.1,1318.2 L803.8,1319.4 L805.5,1318.4 L807.2,1319.4 L808.9,1319.5 L810.6,1319.4 L812.2,1318.1 L813.9,1318.6 L815.6,1317.6 L817.3,1318.8 L819.0,1317.3 L820.7,1318.1 L822.3,1316.5 L824.0,1316.6 L825.7,1317.4 L827.4,1317.1 L829.1,1316.8 L830.8,1316.6 L832.4,1317.0 L834.1,1315.9 L835.8,1317.0 L837.5,1318.0 L839.2,1316.2 L840.9,1316.4 L842.5,1315.6 L844.2,1315.7 L845.9,1316.0 L847.6,1315.9 L849.3,1315.8 L851.0,1316.3 L852.6,1316.7 L854.3,1316.3 L856.0,1315.7 L857.7,1317.3 L859.4,1315.8 L861.1,1316.1 L862.7,1315.3 L864.4,1315.8 L866.1,1315.1 L867.8,1315.2 L869.5,1314.0 L871.1,1315.2 L872.8,1315.0 L874.5,1314.7 L876.2,1316.1 L877.9,1315.4 L879.6,1313.4 L881.2,1314.0 L882.9,1314.2 L884.6,1313.4 L886.3,1314.3 L888.0,1314.2 L889.7,1314.2 L891.3,1315.2 L893.0,1313.0 L894.7,1313.8 L896.4,1313.6 L898.1,1313.7 L899.8,1313.8 L901.4,1314.9 L903.1,1312.9 L904.8,1311.2 L906.5,1312.0 L908.2,1312.8 L909.9,1313.2 L911.5,1312.3 L913.2,1311.8 L914.9,1312.0 L916.6,1311.1 L918.3,1312.3 L920.0,1310.5 L921.6,1311.0 L923.3,1311.3 L925.0,1310.8 L926.7,1310.1 L928.4,1309.6 L930.1,1309.8 L931.7,1309.2 L933.4,1307.6 L935.1,1310.4 L936.8,1310.4 L938.5,1308.5 L940.2,1309.1 L941.8,1308.0 L943.5,1309.0 L945.2,1307.4 L946.9,1306.2 L948.6,1306.1 L950.3,1307.5 L951.9,1306.6 L953.6,1305.4 L955.3,1304.4 L957.0,1306.3 L958.7,1306.0 L960.4,1304.1 L962.0,1305.0 L963.7,1305.3 L965.4,1303.4 L967.1,1305.2 L968.8,1304.2 L970.5,1302.6 L972.1,1303.5 L973.8,1302.2 L975.5,1303.4 L977.2,1301.5 L978.9,1301.4 L980.6,1300.2 L982.2,1301.4 L983.9,1301.1 L985.6,1300.6 L987.3,1299.3 L989.0,1300.4 L990.7,1299.6 L992.3,1297.6 L994.0,1298.2 L995.7,1297.9 L997.4,1298.5 L999.1,1297.1 L1000.8,1298.3 L1002.4,1298.2 L1004.1,1297.4 L1005.8,1295.2 L1007.5,1295.8 L1009.2,1296.4 L1010.9,1295.6 L1012.5,1294.6 L1014.2,1293.7 L1015.9,1295.5 L1017.6,1292.9 L1019.3,1292.9 L1021.0,1293.8 L1022.6,1293.3 L1024.3,1292.3 L1026.0,1292.6 L1027.7,1292.0 L1029.4,1292.5 L1031.0,1292.9 L1032.7,1289.4 L1034.4,1290.7 L1036.1,1290.3 L1037.8,1289.6 L1039.5,1288.5 L1041.1,1288.6 L1042.8,1290.1 L1044.5,1289.2 L1046.2,1288.6 L1047.9,1287.7 L1049.6,1288.3 L1051.2,1287.1 L1052.9,1286.9 L1054.6,1285.6 L1056.3,1287.7 L1058.0,1285.3 L1059.7,1284.8 L1061.3,1284.2 L1063.0,1284.2 L1064.7,1284.3 L1066.4,1283.2 L1068.1,1283.3 L1069.8,1283.5 L1071.4,1283.3 L1073.1,1281.3 L1074.8,1281.9 L1076.5,1280.0 L1078.2,1278.7 L1079.9,1279.4 L1081.5,1278.9 L1083.2,1278.0 L1084.9,1276.1 L1086.6,1275.7 L1088.3,1276.3 L1090.0,1274.9 L1091.6,1274.4 L1093.3,1273.9 L1095.0,1272.0 L1096.7,1271.5 L1098.4,1270.6 L1100.1,1270.1 L1101.7,1267.2 L1103.4,1267.7 L1105.1,1266.5 L1106.8,1264.4 L1108.5,1262.6 L1110.2,1263.4 L1111.8,1259.8 L1113.5,1257.6 L1115.2,1257.0 L1116.9,1256.4 L1118.6,1254.3 L1120.3,1250.5 L1121.9,1250.9 L1123.6,1249.6 L1125.3,1248.1 L1127.0,1247.2 L1128.7,1243.9 L1130.4,1241.7 L1132.0,1241.5 L1133.7,1237.9 L1135.4,1236.2 L1137.1,1232.8 L1138.8,1229.3 L1140.5,1226.1 L1142.1,1223.5 L1143.8,1218.6 L1145.5,1217.3 L1147.2,1213.8 L1148.9,1209.0 L1150.6,1207.5 L1152.2,1202.0 L1153.9,1200.7 L1155.6,1196.9 L1157.3,1191.7 L1159.0,1188.6 L1160.7,1182.6 L1162.3,1177.2 L1164.0,1171.0 L1165.7,1166.9 L1167.4,1162.2 L1169.1,1154.5 L1170.8,1149.4 L1172.4,1141.5 L1174.1,1129.8 L1175.8,1120.4 L1177.5,1111.3 L1179.2,1101.6 L1180.9,1093.0 L1182.5,1080.5 L1184.2,1068.8 L1185.9,1055.6 L1187.6,1042.4 L1189.3,1026.8 L1191.0,1013.1 L1192.6,995.6 L1194.3,977.6 L1196.0,957.9 L1197.7,936.1 L1199.4,912.6 L1201.0,887.6 L1202.7,861.9 L1204.4,831.2 L1206.1,800.7 L1207.8,764.9 L1209.5,727.8 L1211.1,687.6 L1212.8,642.8 L1214.5,599.1 L1216.2,552.5 L1217.9,503.2 L1219.6,454.1 L1221.2,404.3 L1222.9,355.1 L1224.6,308.7 L1226.3,264.7 L1228.0,232.6 L1229.7,204.8 L1231.3,184.8 L1233.0,178.5 L1234.7,182.1 L1236.4,195.6 L1238.1,219.5 L1239.8,251.9 L1241.4,291.3 L1243.1,340.0 L1244.8,387.2 L1246.5,435.4 L1248.2,488.3 L1249.9,539.5 L1251.5,589.3 L1253.2,636.6 L1254.9,684.5 L1256.6,724.9 L1258.3,764.3 L1260.0,802.2 L1261.6,838.4 L1263.3,869.2 L1265.0,897.6 L1266.7,926.1 L1268.4,953.9 L1270.1,979.2 L1271.7,998.0 L1273.4,1016.9 L1275.1,1035.6 L1276.8,1052.8 L1278.5,1066.9 L1280.2,1083.6 L1281.8,1097.6 L1283.5,1109.5 L1285.2,1119.7 L1286.9,1129.7 L1288.6,1141.6 L1290.3,1150.5 L1291.9,1155.7 L1293.6,1164.2 L1295.3,1171.9 L1297.0,1179.7 L1298.7,1186.3 L1300.4,1192.9 L1302.0,1198.3 L1303.7,1204.6 L1305.4,1208.3 L1307.1,1212.8 L1308.8,1217.5 L1310.5,1220.9 L1312.1,1224.5 L1313.8,1230.4 L1315.5,1233.7 L1317.2,1235.7 L1318.9,1239.8 L1320.6,1241.6 L1322.2,1242.6 L1323.9,1244.9 L1325.6,1248.7 L1327.3,1250.8 L1329.0,1253.9 L1330.7,1255.7 L1332.3,1258.8 L1334.0,1260.9 L1335.7,1263.0 L1337.4,1264.5 L1339.1,1267.0 L1340.8,1268.7 L1342.4,1269.9 L1344.1,1270.3 L1345.8,1273.2 L1347.5,1274.3 L1349.2,1276.7 L1350.9,1276.8 L1352.5,1276.6 L1354.2,1278.5 L1355.9,1281.6 L1357.6,1281.4 L1359.3,1282.7 L1361.0,1284.7 L1362.6,1286.3 L1364.3,1286.7 L1366.0,1288.0 L1367.7,1287.7 L1369.4,1288.6 L1371.0,1289.3 L1372.7,1289.6 L1374.4,1292.6 L1376.1,1291.4 L1377.8,1291.3 L1379.5,1292.5 L1381.1,1292.7 L1382.8,1293.2 L1384.5,1292.8 L1386.2,1293.3 L1387.9,1292.8 L1389.6,1294.0 L1391.2,1294.8 L1392.9,1295.9 L1394.6,1297.3 L1396.3,1297.4 L1398.0,1297.6 L1399.7,1298.6 L1401.3,1300.5 L1403.0,1301.3 L1404.7,1299.7 L1406.4,1300.1 L1408.1,1299.9 L1409.8,1300.8 L1411.4,1299.8 L1413.1,1300.2 L1414.8,1301.4 L1416.5,1301.2 L1418.2,1302.8 L1419.9,1302.6 L1421.5,1304.5 L1423.2,1303.5 L1424.9,1301.8 L1426.6,1303.3 L1428.3,1302.7 L1430.0,1303.8 L1431.6,1304.3 L1433.3,1304.5 L1435.0,1305.2 L1436.7,1304.5 L1438.4,1305.9 L1440.1,1305.5 L1441.7,1303.9 L1443.4,1305.5 L1445.1,1306.4 L1446.8,1305.4 L1448.5,1306.0 L1450.2,1306.7 L1451.8,1307.5 L1453.5,1306.9 L1455.2,1307.3 L1456.9,1307.0 L1458.6,1306.9 L1460.3,1307.1 L1461.9,1308.2 L1463.6,1307.1 L1465.3,1307.3 L1467.0,1308.9 L1468.7,1307.6 L1470.4,1308.0 L1472.0,1307.7 L1473.7,1308.9 L1475.4,1308.4 L1477.1,1308.5 L1478.8,1309.3 L1480.5,1308.0 L1482.1,1308.7 L1483.8,1308.2 L1485.5,1309.4 L1487.2,1309.8 L1488.9,1309.6 L1490.6,1310.5 L1492.2,1309.5 L1493.9,1308.6 L1495.6,1307.9 L1497.3,1308.2 L1499.0,1308.2 L1500.7,1308.3 L1502.3,1307.7 L1504.0,1309.3 L1505.7,1308.8 L1507.4,1309.2 L1509.1,1311.6 L1510.8,1309.7 L1512.4,1309.9 L1514.1,1309.7 L1515.8,1310.5 L1517.5,1310.8 L1519.2,1310.7 L1520.9,1309.8 L1522.5,1310.1 L1524.2,1309.3 L1525.9,1311.6 L1527.6,1309.8 L1529.3,1309.3 L1531.0,1311.6 L1532.6,1310.9 L1534.3,1312.3 L1536.0,1312.9 L1537.7,1312.2 L1539.4,1311.2 L1541.0,1311.1 L1542.7,1311.7 L1544.4,1310.9 L1546.1,1311.2 L1547.8,1310.1 L1549.5,1312.8 L1551.1,1312.4 L1552.8,1312.3 L1554.5,1309.9 L1556.2,1312.3 L1557.9,1310.2 L1559.6,1312.3 L1561.2,1311.6 L1562.9,1313.3 L1564.6,1312.8 L1566.3,1311.6 L1568.0,1311.5 L1569.7,1313.7 L1571.3,1310.8 L1573.0,1312.2 L1574.7,1313.2 L1576.4,1312.2 L1578.1,1313.2 L1579.8,1313.9 L1581.4,1312.6 L1583.1,1312.1 L1584.8,1312.0 L1586.5,1314.3 L1588.2,1313.7 L1589.9,1313.1 L1591.5,1312.2 L1593.2,1312.0 L1594.9,1313.5 L1596.6,1314.2 L1598.3,1312.7 L1600.0,1313.6 L1601.6,1312.9 L1603.3,1312.5 L1605.0,1312.9 L1606.7,1314.2 L1608.4,1314.5 L1610.1,1314.7 L1611.7,1312.9 L1613.4,1312.6 L1615.1,1314.4 L1616.8,1314.1 L1618.5,1314.4 L1620.2,1313.8 L1621.8,1314.4 L1623.5,1314.5 L1625.2,1312.8 L1626.9,1313.1 L1628.6,1313.9 L1630.3,1313.0 L1631.9,1314.4 L1633.6,1313.6 L1635.3,1314.8 L1637.0,1314.6 L1638.7,1313.3 L1640.4,1315.1 L1642.0,1314.4 L1643.7,1315.1 L1645.4,1315.2 L1647.1,1314.2 L1648.8,1314.2 L1650.5,1315.5 L1652.1,1312.5 L1653.8,1313.0 L1655.5,1315.0 L1657.2,1314.0 L1658.9,1314.2 L1660.6,1314.9 L1662.2,1315.4 L1663.9,1314.4 L1665.6,1314.5 L1667.3,1313.4 L1669.0,1314.3 L1670.7,1315.3 L1672.3,1315.0 L1674.0,1314.5 L1675.7,1313.7 L1677.4,1315.4 L1679.1,1314.3 L1680.8,1313.5 L1682.4,1315.7 L1684.1,1313.4 L1685.8,1315.0 L1687.5,1314.6 L1689.2,1315.0 L1690.9,1314.3 L1692.5,1314.2 L1694.2,1314.3 L1695.9,1313.0 L1697.6,1316.7 L1699.3,1315.6 L1701.0,1316.4 L1702.6,1315.6 L1704.3,1316.0 L1706.0,1315.7 L1707.7,1315.5 L1709.4,1316.0 L1711.0,1314.8 L1712.7,1316.8 L1714.4,1316.0 L1716.1,1315.6 L1717.8,1314.5 L1719.5,1316.7 L1721.1,1316.8 L1722.8,1315.7 L1724.5,1316.4 L1726.2,1318.1 L1727.9,1316.4 L1729.6,1317.5 L1731.2,1318.2 L1732.9,1318.3 L1734.6,1318.1 L1736.3,1318.6 L1738.0,1318.2 L1739.7,1318.3 L1741.3,1319.5 L1743.0,1320.0 L1744.7,1317.6 L1746.4,1319.3 L1748.1,1317.6 L1749.8,1319.0 L1751.4,1320.9 L1753.1,1319.0 L1754.8,1320.0 L1756.5,1321.1 L1758.2,1319.4 L1759.9,1320.4 L1761.5,1319.7 L1763.2,1318.7 L1764.9,1319.1 L1766.6,1319.7 L1768.3,1319.8 L1770.0,1319.9 L1771.6,1320.6 L1773.3,1321.1 L1775.0,1320.8 L1776.7,1320.5 L1778.4,1321.5 L1780.1,1321.2 L1781.7,1321.2 L1783.4,1322.1 L1785.1,1320.7 L1786.8,1320.7 L1788.5,1321.6 L1790.2,1322.6 L1791.8,1323.5 L1793.5,1323.8 L1795.2,1321.2 L1796.9,1322.1 L1798.6,1322.8 L1800.3,1323.6 L1801.9,1322.6 L1803.6,1321.8 L1805.3,1322.4 L1807.0,1323.5 L1808.7,1320.9 L1810.4,1322.4 L1812.0,1323.9 L1813.7,1322.7 L1815.4,1322.8 L1817.1,1322.6 L1818.8,1323.0 L1820.5,1324.3 L1822.1,1323.1 L1823.8,1324.1 L1825.5,1323.4 L1827.2,1323.6 L1828.9,1323.1 L1830.6,1323.5 L1832.2,1324.0 L1833.9,1322.0 L1835.6,1324.1 L1837.3,1324.2 L1839.0,1323.6 L1840.7,1323.6 L1842.3,1323.2 L1844.0,1325.2 L1845.7,1324.5 L1847.4,1323.2 L1849.1,1323.9 L1850.8,1323.9 L1852.4,1325.3 L1854.1,1325.4 L1855.8,1324.9 L1857.5,1324.1 L1859.2,1323.7 L1860.9,1323.7 L1862.5,1325.9 L1864.2,1324.5 L1865.9,1324.4 L1867.6,1324.8 L1869.3,1324.9 L1871.0,1325.4 L1872.6,1324.9 L1874.3,1326.4 L1876.0,1323.7 L1877.7,1324.6 L1879.4,1323.6 L1881.0,1325.5 L1882.7,1326.3 L1884.4,1323.6 L1886.1,1326.8 L1887.8,1326.1 L1889.5,1324.6 L1891.1,1324.1 L1892.8,1325.8 L1894.5,1325.5 L1896.2,1325.6 L1897.9,1325.0 L1899.6,1326.2 L1901.2,1325.1 L1902.9,1324.9 L1904.6,1325.7 L1906.3,1325.6 L1908.0,1323.9 L1909.7,1325.5 L1911.3,1326.2 L1913.0,1325.0 L1914.7,1324.9 L1916.4,1326.5 L1918.1,1326.7 L1919.8,1324.8 L1921.4,1325.1 L1923.1,1325.0 L1924.8,1324.8 L1926.5,1327.0 L1928.2,1327.4 L1929.9,1325.4 L1931.5,1325.4 L1933.2,1326.1 L1934.9,1325.7 L1936.6,1326.9 L1938.3,1327.1 L1940.0,1326.5 L1941.6,1326.1 L1943.3,1326.0 L1945.0,1326.6 L1946.7,1326.1 L1948.4,1325.6 L1950.1,1326.3 L1951.7,1327.1 L1953.4,1325.4 L1955.1,1327.7 L1956.8,1326.7 L1958.5,1325.5 L1960.2,1325.2 L1961.8,1325.8 L1963.5,1327.5 L1965.2,1328.7 L1966.9,1327.7 L1968.6,1327.5 L1970.3,1327.4 L1971.9,1328.4 L1973.6,1328.1 L1975.3,1327.5 L1977.0,1327.7 L1978.7,1326.8 L1980.4,1327.5 L1982.0,1327.5 L1983.7,1328.5 L1985.4,1328.0 L1987.1,1329.7 L1988.8,1328.5 L1990.5,1329.5 L1992.1,1328.2 L1993.8,1327.9 L1995.5,1328.3 L1997.2,1327.3 L1998.9,1329.0 L2000.6,1328.6 L2002.2,1329.0 L2003.9,1328.9 L2005.6,1327.7 L2007.3,1329.8 L2009.0,1327.5 L2010.7,1327.8 L2012.3,1328.4 L2014.0,1329.2 L2015.7,1328.8 L2017.4,1329.3 L2019.1,1327.9 L2020.8,1330.0 L2022.4,1329.9 L2024.1,1329.1 L2025.8,1331.0 L2027.5,1328.1 L2029.2,1329.5 L2030.9,1328.7 L2032.5,1329.2 L2034.2,1330.7 L2035.9,1329.3 L2037.6,1329.1 L2039.3,1330.4 L2040.9,1330.3 L2042.6,1330.3 L2044.3,1328.9 L2046.0,1330.5 L2047.7,1330.3 L2049.4,1329.6 L2051.0,1329.5 L2052.7,1330.1 L2054.4,1328.4 L2056.1,1328.4 L2057.8,1330.7 L2059.5,1328.3 L2061.1,1329.4 L2062.8,1329.2 L2064.5,1329.2 L2066.2,1330.9 L2067.9,1330.8 L2069.6,1329.5 L2071.2,1330.4 L2072.9,1328.1 L2074.6,1330.3 L2076.3,1329.2 L2078.0,1330.7 L2079.7,1328.3 L2081.3,1328.5 L2083.0,1331.2 L2084.7,1329.7 L2086.4,1330.0 L2088.1,1328.9 L2089.8,1331.9 L2091.4,1330.4 L2093.1,1329.4 L2094.8,1330.4 L2096.5,1330.7 L2098.2,1331.4 L2099.9,1330.0 L2101.5,1330.4 L2103.2,1331.4 L2104.9,1330.2 L2106.6,1330.9 L2108.3,1330.1 L2110.0,1329.8 L2111.6,1329.5 L2113.3,1330.1 L2115.0,1331.2 L2116.7,1330.6 L2118.4,1330.7 L2120.1,1329.7 L2121.7,1331.0 L2123.4,1329.3 L2125.1,1330.5 L2126.8,1330.0 L2128.5,1330.9 L2130.2,1329.6 L2131.8,1331.0 L2133.5,1329.3 L2135.2,1330.3 L2136.9,1330.0 L2138.6,1330.2 L2140.3,1331.3 L2141.9,1329.5 L2143.6,1331.9 L2145.3,1330.6 L2147.0,1330.1 L2148.7,1329.9 L2150.4,1331.2 L2152.0,1331.1 L2153.7,1330.9 L2155.4,1331.6 L2157.1,1331.0 L2158.8,1331.5 L2160.5,1330.4 L2162.1,1331.0 L2163.8,1331.5 L2165.5,1331.4 L2167.2,1330.8 L2168.9,1331.5 L2170.6,1332.0 L2172.2,1331.8 L2173.9,1330.7 L2175.6,1332.3 L2177.3,1330.9 L2179.0,1330.3 L2180.7,1331.5 L2182.3,1331.2 L2184.0,1332.2 L2185.7,1331.8 L2187.4,1331.5 L2189.1,1330.8 L2190.8,1331.4 L2192.4,1332.0 L2194.1,1331.5 L2195.8,1332.1 L2197.5,1329.8 L2199.2,1331.6 L2200.9,1329.9 L2202.5,1332.4 L2204.2,1331.9 L2205.9,1330.0 L2207.6,1331.4 L2209.3,1329.5 L2210.9,1330.6 L2212.6,1330.1 L2214.3,1332.4 L2216.0,1331.1 L2217.7,1331.5 L2219.4,1330.0 L2221.0,1331.6 L2222.7,1331.3 L2224.4,1331.9 L2226.1,1332.6 L2227.8,1330.8 L2229.5,1331.6 L2231.1,1331.1 L2232.8,1332.1 L2234.5,1331.4 L2236.2,1332.1 L2237.9,1331.8 L2239.6,1331.3 L2241.2,1331.9 L2242.9,1331.0 L2244.6,1332.4 L2246.3,1331.8 L2248.0,1330.5 L2249.7,1332.1 L2251.3,1332.9 L2253.0,1330.5 L2254.7,1331.6 L2256.4,1332.4 L2258.1,1332.5 L2259.8,1331.1 L2261.4,1332.5 L2263.1,1332.9 L2264.8,1331.1 L2266.5,1331.4 L2268.2,1331.2 L2269.9,1332.1 L2271.5,1331.3 L2273.2,1332.4 L2274.9,1332.0 L2276.6,1331.5 L2278.3,1331.5 L2280.0,1330.8 L2281.6,1331.1 L2283.3,1332.4 L2285.0,1332.1 L2286.7,1331.1 L2288.4,1330.7 L2290.1,1331.3 L2291.7,1332.0 L2293.4,1331.5 L2295.1,1330.7 L2296.8,1330.6 L2298.5,1332.1 L2300.2,1332.4 L2301.8,1331.6 L2303.5,1332.2 L2305.2,1331.7 L2306.9,1332.4 L2308.6,1331.5 L2310.3,1331.3 L2311.9,1330.6 L2313.6,1330.8 L2315.3,1331.6 L2317.0,1332.4 L2318.7,1331.1 L2320.4,1332.3 L2322.0,1332.9 L2323.7,1332.0 L2325.4,1332.9 L2327.1,1330.4 L2328.8,1331.0 L2330.5,1330.8 L2332.1,1332.2 L2333.8,1332.0 L2335.5,1331.8 L2337.2,1332.3 L2338.9,1331.9 L2340.6,1331.6 L2342.2,1332.5 L2343.9,1332.0 L2345.6,1331.0 L2347.3,1331.9 L2349.0,1333.4 L2350.7,1332.7 L2352.3,1332.5 L2354.0,1332.4 L2355.7,1331.9 L2357.4,1332.7 L2359.1,1330.8 L2360.8,1332.2 L2362.4,1331.7 L2364.1,1332.7 L2365.8,1333.7 L2367.5,1331.7 L2369.2,1331.4 L2370.9,1331.3 L2372.5,1332.2 L2374.2,1331.9 L2375.9,1332.7" stroke="#ff0000"/>
</g>
<text transform="translate(325.50,1355.33) scale(1.0,1.037)" font-size="81.0" text-anchor="end">0.0</text>
<text transform="translate(325.50,1119.40) scale(1.0,1.037)" font-size="81.0" text-anchor="end">0.2</text>
<text transform="translate(325.50,883.47) scale(1.0,1.037)" font-size="81.0" text-anchor="end">0.4</text>
<text transform="translate(325.50,647.53) scale(1.0,1.037)" font-size="81.0" text-anchor="end">0.6</text>
<text transform="translate(325.50,411.60) scale(1.0,1.037)" font-size="81.0" text-anchor="end">0.8</text>
<text transform="translate(325.50,175.67) scale(1.0,1.037)" font-size="81.0" text-anchor="end">1.0</text>
<text transform="translate(355.60,1544.20) scale(1.0,1.037)" font-size="81.0" text-anchor="middle">200</text>
<text transform="translate(692.23,1544.20) scale(1.0,1.037)" font-size="81.0" text-anchor="middle">300</text>
<text transform="translate(1028.87,1544.20) scale(1.0,1.037)" font-size="81.0" text-anchor="middle">400</text>
<text transform="translate(1365.50,1544.20) scale(1.0,1.037)" font-size="81.0" text-anchor="middle">500</text>
<text transform="translate(1702.13,1544.20) scale(1.0,1.037)" font-size="81.0" text-anchor="middle">600</text>
<text transform="translate(2038.77,1544.20) scale(1.0,1.037)" font-size="81.0" text-anchor="middle">700</text>
<text transform="translate(2375.40,1544.20) scale(1.0,1.037)" font-size="81.0" text-anchor="middle">800</text>
<text transform="translate(889.00,1675.30) scale(1.0,1.032)" font-size="123.0" text-anchor="start">Raman shift, cm</text>
<text transform="translate(1775.50,1607.00) scale(1.0,1.032)" font-size="70.0" text-anchor="start">-1</text>
<text transform="translate(108.90,1342.30) rotate(-90) scale(1.0,1.04)" font-size="111.63" text-anchor="start">Raman Intensity, a.u.</text>
<line x1="1621.5" y1="133.7" x2="1825.5" y2="133.7" stroke="#000000" stroke-width="9.4" stroke-linecap="round"/>
<text transform="translate(1847.50,159.80) scale(1.0,1.05)" font-size="80.0" text-anchor="start">BC/Ce-300</text>
<line x1="1621.5" y1="231.5" x2="1825.5" y2="231.5" stroke="#ff0000" stroke-width="9.4" stroke-linecap="round"/>
<text transform="translate(1847.50,257.60) scale(1.0,1.05)" font-size="80.0" text-anchor="start">BC/Ce-350</text>
<line x1="1621.5" y1="329.4" x2="1825.5" y2="329.4" stroke="#00ff00" stroke-width="9.4" stroke-linecap="round"/>
<text transform="translate(1847.50,355.50) scale(1.0,1.05)" font-size="80.0" text-anchor="start">BC/Ce-400</text>
<line x1="1621.5" y1="427.2" x2="1825.5" y2="427.2" stroke="#0000ff" stroke-width="9.4" stroke-linecap="round"/>
<text transform="translate(1847.50,453.30) scale(1.0,1.05)" font-size="80.0" text-anchor="start">BC/Ce-500</text>
<g stroke="#000" stroke-width="2.0" fill="none">
<line x1="561.50" y1="673.00" x2="561.50" y2="667.50"/>
<line x1="673.00" y1="673.00" x2="673.00" y2="663.40"/>
<line x1="784.50" y1="673.00" x2="784.50" y2="667.50"/>
<line x1="896.00" y1="673.00" x2="896.00" y2="663.40"/>
<line x1="1007.50" y1="673.00" x2="1007.50" y2="667.50"/>
<line x1="450.00" y1="628.50" x2="459.60" y2="628.50"/>
<line x1="450.00" y1="584.00" x2="455.50" y2="584.00"/>
<line x1="450.00" y1="539.50" x2="459.60" y2="539.50"/>
<line x1="450.00" y1="495.00" x2="455.50" y2="495.00"/>
<line x1="450.00" y1="450.50" x2="459.60" y2="450.50"/>
<line x1="450.00" y1="406.00" x2="455.50" y2="406.00"/>
<line x1="450.00" y1="361.50" x2="459.60" y2="361.50"/>
<line x1="450.00" y1="317.00" x2="455.50" y2="317.00"/>
<line x1="450.00" y1="272.50" x2="459.60" y2="272.50"/>
<line x1="450.00" y1="228.00" x2="455.50" y2="228.00"/>
<line x1="450.00" y1="183.50" x2="459.60" y2="183.50"/>
</g>
<rect x="450.00" y="139.00" width="669.00" height="534.00" fill="none" stroke="#000" stroke-width="2.0"/>
<clipPath id="c1"><rect x="450.00" y="139.00" width="669.00" height="534.00"/></clipPath>
<g clip-path="url(#c1)" fill="none" stroke-width="6.0" stroke-linejoin="round" stroke-linecap="round">
<path d="M445.5,598.1 L450.0,597.1 L454.5,597.2 L458.9,596.0 L463.4,594.7 L467.8,594.3 L472.3,594.3 L476.8,593.3 L481.2,592.9 L485.7,592.5 L490.1,591.7 L494.6,590.5 L499.1,589.9 L503.5,588.9 L508.0,587.9 L512.4,587.7 L516.9,586.9 L521.4,584.8 L525.8,584.5 L530.3,583.0 L534.7,581.7 L539.2,580.7 L543.7,579.6 L548.1,578.1 L552.6,576.7 L557.0,574.9 L561.5,573.5 L566.0,572.0 L570.4,570.2 L574.9,567.9 L579.3,566.3 L583.8,564.4 L588.3,561.1 L592.7,559.1 L597.2,556.6 L601.6,554.3 L606.1,551.6 L610.6,548.0 L615.0,544.6 L619.5,541.9 L623.9,536.7 L628.4,532.4 L632.9,528.3 L637.3,523.4 L641.8,519.7 L646.2,515.7 L650.7,511.9 L655.2,507.1 L659.6,502.6 L664.1,497.4 L668.5,491.9 L673.0,484.7 L677.5,477.8 L681.9,470.8 L686.4,463.4 L690.8,454.6 L695.3,446.0 L699.8,435.3 L704.2,424.6 L708.7,413.2 L713.1,400.9 L717.6,387.9 L722.1,374.2 L726.5,358.9 L731.0,343.2 L735.4,327.5 L739.9,311.1 L744.4,292.5 L748.8,275.8 L753.3,259.1 L757.7,243.1 L762.2,228.8 L766.7,215.9 L771.1,206.2 L775.6,200.1 L780.0,197.1 L784.5,198.3 L789.0,203.0 L793.4,210.3 L797.9,220.2 L802.3,234.1 L806.8,249.6 L811.3,265.7 L815.7,283.0 L820.2,300.9 L824.6,318.9 L829.1,335.9 L833.6,353.0 L838.0,370.2 L842.5,385.9 L846.9,400.3 L851.4,414.3 L855.9,427.1 L860.3,439.2 L864.8,448.5 L869.2,458.7 L873.7,468.9 L878.2,477.6 L882.6,486.9 L887.1,494.9 L891.5,502.0 L896.0,507.7 L900.5,512.6 L904.9,518.7 L909.4,523.6 L913.8,528.8 L918.3,533.6 L922.8,538.9 L927.2,542.5 L931.7,545.5 L936.1,549.7 L940.6,552.5 L945.1,555.6 L949.5,558.9 L954.0,561.4 L958.4,563.5 L962.9,566.3 L967.4,568.2 L971.8,570.4 L976.3,572.5 L980.7,574.3 L985.2,576.3 L989.7,578.5 L994.1,579.4 L998.6,580.8 L1003.0,582.5 L1007.5,583.5 L1012.0,585.2 L1016.4,586.5 L1020.9,588.1 L1025.3,588.9 L1029.8,589.6 L1034.3,591.2 L1038.7,592.8 L1043.2,593.9 L1047.6,595.0 L1052.1,595.5 L1056.6,597.0 L1061.0,597.4 L1065.5,598.6 L1069.9,600.1 L1074.4,600.4 L1078.9,601.3 L1083.3,602.5 L1087.8,602.8 L1092.2,604.5 L1096.7,605.5 L1101.2,606.5 L1105.6,607.3 L1110.1,608.1 L1114.5,608.4 L1119.0,609.3 L1123.5,609.3" stroke="#00ff00"/>
<path d="M445.5,604.6 L450.0,604.0 L454.5,605.2 L458.9,603.5 L463.4,603.4 L467.8,602.5 L472.3,602.4 L476.8,602.0 L481.2,602.0 L485.7,601.5 L490.1,600.0 L494.6,599.4 L499.1,599.4 L503.5,598.7 L508.0,597.3 L512.4,596.1 L516.9,595.5 L521.4,594.7 L525.8,594.5 L530.3,593.3 L534.7,593.4 L539.2,590.8 L543.7,590.7 L548.1,590.2 L552.6,588.9 L557.0,587.8 L561.5,586.2 L566.0,584.2 L570.4,583.5 L574.9,581.0 L579.3,580.0 L583.8,579.2 L588.3,576.9 L592.7,575.1 L597.2,572.8 L601.6,568.7 L606.1,565.5 L610.6,564.3 L615.0,561.9 L619.5,559.8 L623.9,555.4 L628.4,552.7 L632.9,549.6 L637.3,546.6 L641.8,543.1 L646.2,539.9 L650.7,537.7 L655.2,532.6 L659.6,529.3 L664.1,525.3 L668.5,520.5 L673.0,517.0 L677.5,510.5 L681.9,504.4 L686.4,500.1 L690.8,492.0 L695.3,484.3 L699.8,476.8 L704.2,469.3 L708.7,459.2 L713.1,449.9 L717.6,440.7 L722.1,428.3 L726.5,414.9 L731.0,401.0 L735.4,387.0 L739.9,371.3 L744.4,355.3 L748.8,339.3 L753.3,321.9 L757.7,305.1 L762.2,287.1 L766.7,271.7 L771.1,256.7 L775.6,243.1 L780.0,233.5 L784.5,224.7 L789.0,219.6 L793.4,218.6 L797.9,221.1 L802.3,227.8 L806.8,237.9 L811.3,250.4 L815.7,265.2 L820.2,280.3 L824.6,297.3 L829.1,314.7 L833.6,333.6 L838.0,350.5 L842.5,367.1 L846.9,383.7 L851.4,399.4 L855.9,414.2 L860.3,427.7 L864.8,439.1 L869.2,452.2 L873.7,462.9 L878.2,473.4 L882.6,481.6 L887.1,490.3 L891.5,499.6 L896.0,506.2 L900.5,514.3 L904.9,519.3 L909.4,525.6 L913.8,530.5 L918.3,537.1 L922.8,540.7 L927.2,545.7 L931.7,550.4 L936.1,554.7 L940.6,557.2 L945.1,560.7 L949.5,564.1 L954.0,566.0 L958.4,568.2 L962.9,570.5 L967.4,574.0 L971.8,575.1 L976.3,577.2 L980.7,579.5 L985.2,580.9 L989.7,582.8 L994.1,583.5 L998.6,585.5 L1003.0,586.5 L1007.5,587.6 L1012.0,588.4 L1016.4,590.2 L1020.9,592.4 L1025.3,592.2 L1029.8,594.1 L1034.3,594.8 L1038.7,596.0 L1043.2,597.1 L1047.6,598.8 L1052.1,598.8 L1056.6,599.4 L1061.0,601.1 L1065.5,601.9 L1069.9,603.0 L1074.4,603.7 L1078.9,604.4 L1083.3,605.0 L1087.8,606.7 L1092.2,607.4 L1096.7,608.8 L1101.2,608.6 L1105.6,610.0 L1110.1,611.6 L1114.5,612.2 L1119.0,612.4 L1123.5,612.1" stroke="#0000ff"/>
<path d="M445.5,609.2 L450.0,609.0 L454.5,608.5 L458.9,608.2 L463.4,607.7 L467.8,607.9 L472.3,607.5 L476.8,606.9 L481.2,606.7 L485.7,606.6 L490.1,606.1 L494.6,605.4 L499.1,605.2 L503.5,604.9 L508.0,604.5 L512.4,604.2 L516.9,604.1 L521.4,603.0 L525.8,602.6 L530.3,602.1 L534.7,601.5 L539.2,601.1 L543.7,600.5 L548.1,599.8 L552.6,599.0 L557.0,598.3 L561.5,597.7 L566.0,596.8 L570.4,595.6 L574.9,594.9 L579.3,593.9 L583.8,592.7 L588.3,591.6 L592.7,590.6 L597.2,589.5 L601.6,587.8 L606.1,585.9 L610.6,584.2 L615.0,582.9 L619.5,581.6 L623.9,579.5 L628.4,577.4 L632.9,575.2 L637.3,572.7 L641.8,569.7 L646.2,567.1 L650.7,563.8 L655.2,560.9 L659.6,556.5 L664.1,552.3 L668.5,548.4 L673.0,544.7 L677.5,539.8 L681.9,533.6 L686.4,526.6 L690.8,519.9 L695.3,512.7 L699.8,504.4 L704.2,494.8 L708.7,484.9 L713.1,473.2 L717.6,460.6 L722.1,446.0 L726.5,431.0 L731.0,415.1 L735.4,396.4 L739.9,374.7 L744.4,352.2 L748.8,328.6 L753.3,303.9 L757.7,280.0 L762.2,255.5 L766.7,233.0 L771.1,212.9 L775.6,197.3 L780.0,187.3 L784.5,184.0 L789.0,186.5 L793.4,195.8 L797.9,210.6 L802.3,230.2 L806.8,252.7 L811.3,277.1 L815.7,302.3 L820.2,326.7 L824.6,351.1 L829.1,373.9 L833.6,394.5 L838.0,414.6 L842.5,432.4 L846.9,447.8 L851.4,461.9 L855.9,475.1 L860.3,486.6 L864.8,497.4 L869.2,507.6 L873.7,516.7 L878.2,524.6 L882.6,532.0 L887.1,538.7 L891.5,543.9 L896.0,549.0 L900.5,553.8 L904.9,558.3 L909.4,562.8 L913.8,566.7 L918.3,570.2 L922.8,573.5 L927.2,576.3 L931.7,578.4 L936.1,580.6 L940.6,583.0 L945.1,584.6 L949.5,586.1 L954.0,588.1 L958.4,589.5 L962.9,591.0 L967.4,592.4 L971.8,593.4 L976.3,594.7 L980.7,596.0 L985.2,597.0 L989.7,597.9 L994.1,598.7 L998.6,599.9 L1003.0,600.3 L1007.5,601.4 L1012.0,602.1 L1016.4,603.1 L1020.9,603.6 L1025.3,604.2 L1029.8,604.9 L1034.3,605.6 L1038.7,606.9 L1043.2,607.4 L1047.6,608.3 L1052.1,608.7 L1056.6,609.0 L1061.0,609.4 L1065.5,610.0 L1069.9,610.6 L1074.4,610.8 L1078.9,610.9 L1083.3,611.6 L1087.8,612.1 L1092.2,612.1 L1096.7,612.5 L1101.2,613.1 L1105.6,613.1 L1110.1,613.8 L1114.5,613.8 L1119.0,613.9 L1123.5,614.5" stroke="#000000"/>
<path d="M445.5,600.5 L450.0,599.7 L454.5,599.5 L458.9,599.2 L463.4,598.4 L467.8,597.0 L472.3,597.1 L476.8,596.7 L481.2,596.1 L485.7,595.7 L490.1,594.5 L494.6,593.7 L499.1,593.6 L503.5,592.2 L508.0,591.6 L512.4,590.3 L516.9,589.0 L521.4,587.8 L525.8,586.8 L530.3,585.0 L534.7,584.5 L539.2,583.2 L543.7,581.3 L548.1,580.8 L552.6,578.7 L557.0,578.2 L561.5,576.8 L566.0,574.8 L570.4,573.6 L574.9,571.4 L579.3,569.4 L583.8,567.0 L588.3,565.5 L592.7,563.7 L597.2,560.8 L601.6,558.9 L606.1,555.9 L610.6,551.5 L615.0,547.9 L619.5,544.5 L623.9,540.8 L628.4,537.6 L632.9,532.9 L637.3,528.5 L641.8,523.5 L646.2,518.5 L650.7,512.6 L655.2,507.4 L659.6,500.8 L664.1,494.0 L668.5,486.6 L673.0,478.4 L677.5,469.5 L681.9,460.1 L686.4,450.4 L690.8,438.8 L695.3,427.3 L699.8,413.8 L704.2,399.8 L708.7,384.6 L713.1,367.7 L717.6,351.2 L722.1,333.7 L726.5,315.1 L731.0,296.6 L735.4,277.8 L739.9,259.2 L744.4,241.7 L748.8,225.1 L753.3,213.0 L757.7,202.5 L762.2,195.0 L766.7,192.6 L771.1,194.0 L775.6,199.1 L780.0,208.1 L784.5,220.3 L789.0,235.2 L793.4,253.5 L797.9,271.3 L802.3,289.5 L806.8,309.5 L811.3,328.8 L815.7,347.6 L820.2,365.4 L824.6,383.5 L829.1,398.7 L833.6,413.6 L838.0,427.9 L842.5,441.5 L846.9,453.1 L851.4,463.9 L855.9,474.6 L860.3,485.1 L864.8,494.6 L869.2,501.7 L873.7,508.9 L878.2,515.9 L882.6,522.4 L887.1,527.7 L891.5,534.0 L896.0,539.3 L900.5,543.8 L904.9,547.6 L909.4,551.4 L913.8,555.9 L918.3,559.3 L922.8,561.2 L927.2,564.4 L931.7,567.3 L936.1,570.3 L940.6,572.8 L945.1,575.3 L949.5,577.3 L954.0,579.7 L958.4,581.1 L962.9,582.8 L967.4,584.5 L971.8,585.8 L976.3,587.2 L980.7,589.4 L985.2,590.7 L989.7,591.4 L994.1,593.0 L998.6,593.6 L1003.0,594.0 L1007.5,594.9 L1012.0,596.3 L1016.4,597.1 L1020.9,598.3 L1025.3,598.9 L1029.8,600.1 L1034.3,600.9 L1038.7,601.7 L1043.2,602.3 L1047.6,603.2 L1052.1,603.9 L1056.6,604.3 L1061.0,604.5 L1065.5,605.6 L1069.9,606.0 L1074.4,606.9 L1078.9,606.9 L1083.3,606.8 L1087.8,607.6 L1092.2,608.7 L1096.7,608.6 L1101.2,609.1 L1105.6,609.9 L1110.1,610.5 L1114.5,610.7 L1119.0,611.1 L1123.5,611.0" stroke="#ff0000"/>
</g>
<text transform="translate(440.30,638.00) scale(1.0,1.03)" font-size="38.7" text-anchor="end">0.0</text>
<text transform="translate(440.30,549.00) scale(1.0,1.03)" font-size="38.7" text-anchor="end">0.2</text>
<text transform="translate(440.30,460.00) scale(1.0,1.03)" font-size="38.7" text-anchor="end">0.4</text>
<text transform="translate(440.30,371.00) scale(1.0,1.03)" font-size="38.7" text-anchor="end">0.6</text>
<text transform="translate(440.30,282.00) scale(1.0,1.03)" font-size="38.7" text-anchor="end">0.8</text>
<text transform="translate(440.30,193.00) scale(1.0,1.03)" font-size="38.7" text-anchor="end">1.0</text>
<text transform="translate(449.40,712.60) scale(1.0,1.03)" font-size="38.7" text-anchor="middle">425</text>
<text transform="translate(672.40,712.60) scale(1.0,1.03)" font-size="38.7" text-anchor="middle">450</text>
<text transform="translate(895.40,712.60) scale(1.0,1.03)" font-size="38.7" text-anchor="middle">475</text>
<text transform="translate(1118.40,712.60) scale(1.0,1.03)" font-size="38.7" text-anchor="middle">500</text>
<g stroke="#000" stroke-width="3.5" fill="none">
<line x1="1594.39" y1="1181.80" x2="1594.39" y2="1175.00"/>
<line x1="1696.67" y1="1181.80" x2="1696.67" y2="1168.80"/>
<line x1="1798.96" y1="1181.80" x2="1798.96" y2="1175.00"/>
<line x1="1901.25" y1="1181.80" x2="1901.25" y2="1168.80"/>
<line x1="2003.54" y1="1181.80" x2="2003.54" y2="1175.00"/>
<line x1="2105.82" y1="1181.80" x2="2105.82" y2="1168.80"/>
<line x1="2208.11" y1="1181.80" x2="2208.11" y2="1175.00"/>
<line x1="1492.10" y1="1113.04" x2="1505.10" y2="1113.04"/>
<line x1="1492.10" y1="1044.29" x2="1498.90" y2="1044.29"/>
<line x1="1492.10" y1="975.53" x2="1505.10" y2="975.53"/>
<line x1="1492.10" y1="906.78" x2="1498.90" y2="906.78"/>
<line x1="1492.10" y1="838.02" x2="1505.10" y2="838.02"/>
<line x1="1492.10" y1="769.27" x2="1498.90" y2="769.27"/>
<line x1="1492.10" y1="700.51" x2="1505.10" y2="700.51"/>
<line x1="1492.10" y1="631.76" x2="1498.90" y2="631.76"/>
</g>
<rect x="1492.10" y="563.00" width="818.30" height="618.80" fill="none" stroke="#000" stroke-width="3.7"/>
<clipPath id="c2"><rect x="1492.10" y="563.00" width="818.30" height="618.80"/></clipPath>
<g clip-path="url(#c2)" fill="none" stroke-width="5.0" stroke-linejoin="round" stroke-linecap="round">
<path d="M1492.1,518.6 L1494.1,520.8 L1496.2,537.3 L1498.2,549.5 L1500.3,569.8 L1502.3,573.1 L1504.4,600.5 L1506.4,617.5 L1508.5,625.2 L1510.5,635.2 L1512.6,669.8 L1514.6,680.8 L1516.6,680.0 L1518.7,703.3 L1520.7,711.3 L1522.8,725.7 L1524.8,748.7 L1526.9,745.4 L1528.9,751.0 L1531.0,769.9 L1533.0,767.1 L1535.1,780.9 L1537.1,773.7 L1539.2,785.3 L1541.2,789.5 L1543.2,793.5 L1545.3,803.2 L1547.3,793.9 L1549.4,822.6 L1551.4,828.9 L1553.5,832.2 L1555.5,840.0 L1557.6,859.8 L1559.6,846.0 L1561.7,860.3 L1563.7,857.7 L1565.7,871.9 L1567.8,875.3 L1569.8,872.5 L1571.9,881.9 L1573.9,886.8 L1576.0,881.6 L1578.0,880.2 L1580.1,890.8 L1582.1,887.8 L1584.2,900.2 L1586.2,892.9 L1588.3,905.9 L1590.3,899.2 L1592.3,913.2 L1594.4,905.9 L1596.4,902.8 L1598.5,912.9 L1600.5,930.0 L1602.6,907.4 L1604.6,927.1 L1606.7,942.3 L1608.7,911.4 L1610.8,933.4 L1612.8,924.3 L1614.8,929.1 L1616.9,916.7 L1618.9,920.1 L1621.0,948.2 L1623.0,931.3 L1625.1,944.5 L1627.1,937.4 L1629.2,939.4 L1631.2,940.3 L1633.3,950.0 L1635.3,935.9 L1637.3,935.4 L1639.4,936.6 L1641.4,928.7 L1643.5,946.5 L1645.5,953.4 L1647.6,946.3 L1649.6,966.1 L1651.7,951.1 L1653.7,959.9 L1655.8,960.1 L1657.8,962.5 L1659.9,962.8 L1661.9,951.5 L1663.9,968.5 L1666.0,963.7 L1668.0,955.8 L1670.1,959.4 L1672.1,947.1 L1674.2,957.9 L1676.2,942.8 L1678.3,952.8 L1680.3,968.8 L1682.4,962.0 L1684.4,948.4 L1686.4,972.4 L1688.5,969.8 L1690.5,977.3 L1692.6,963.5 L1694.6,955.2 L1696.7,954.1 L1698.7,965.1 L1700.8,975.0 L1702.8,962.4 L1704.9,966.1 L1706.9,958.6 L1708.9,963.6 L1711.0,956.0 L1713.0,970.8 L1715.1,966.0 L1717.1,967.6 L1719.2,970.5 L1721.2,963.3 L1723.3,981.1 L1725.3,979.6 L1727.4,985.1 L1729.4,966.8 L1731.5,960.5 L1733.5,963.0 L1735.5,952.7 L1737.6,963.7 L1739.6,971.0 L1741.7,959.5 L1743.7,959.4 L1745.8,958.1 L1747.8,949.3 L1749.9,964.1 L1751.9,962.8 L1754.0,956.0 L1756.0,945.2 L1758.0,960.7 L1760.1,943.1 L1762.1,942.4 L1764.2,956.2 L1766.2,957.9 L1768.3,953.2 L1770.3,964.9 L1772.4,939.3 L1774.4,950.1 L1776.5,942.4 L1778.5,956.3 L1780.6,949.3 L1782.6,952.0 L1784.6,937.3 L1786.7,959.1 L1788.7,940.3 L1790.8,949.6 L1792.8,950.1 L1794.9,964.0 L1796.9,950.8 L1799.0,952.9 L1801.0,944.7 L1803.1,953.4 L1805.1,954.4 L1807.1,941.7 L1809.2,947.2 L1811.2,952.6 L1813.3,947.3 L1815.3,944.5 L1817.4,950.2 L1819.4,949.4 L1821.5,936.2 L1823.5,948.9 L1825.6,966.2 L1827.6,941.5 L1829.6,937.5 L1831.7,939.7 L1833.7,940.3 L1835.8,964.5 L1837.8,955.1 L1839.9,947.0 L1841.9,946.3 L1844.0,947.6 L1846.0,957.7 L1848.1,952.6 L1850.1,949.9 L1852.2,938.9 L1854.2,928.9 L1856.2,958.8 L1858.3,944.9 L1860.3,952.6 L1862.4,936.6 L1864.4,941.7 L1866.5,939.2 L1868.5,941.4 L1870.6,947.0 L1872.6,946.6 L1874.7,942.6 L1876.7,932.2 L1878.7,923.2 L1880.8,930.7 L1882.8,940.8 L1884.9,926.3 L1886.9,936.7 L1889.0,939.4 L1891.0,939.6 L1893.1,948.2 L1895.1,953.0 L1897.2,947.2 L1899.2,943.6 L1901.2,941.0 L1903.3,953.0 L1905.3,945.1 L1907.4,958.5 L1909.4,934.1 L1911.5,949.8 L1913.5,954.3 L1915.6,941.0 L1917.6,946.8 L1919.7,956.2 L1921.7,934.5 L1923.8,956.1 L1925.8,946.4 L1927.8,955.4 L1929.9,945.2 L1931.9,946.0 L1934.0,958.8 L1936.0,959.9 L1938.1,945.4 L1940.1,953.8 L1942.2,949.2 L1944.2,954.8 L1946.3,949.6 L1948.3,954.5 L1950.3,964.6 L1952.4,949.6 L1954.4,964.8 L1956.5,966.0 L1958.5,967.2 L1960.6,962.3 L1962.6,981.4 L1964.7,977.8 L1966.7,982.1 L1968.8,986.0 L1970.8,995.3 L1972.9,1008.2 L1974.9,997.5 L1976.9,985.3 L1979.0,995.6 L1981.0,999.5 L1983.1,998.9 L1985.1,991.4 L1987.2,1000.6 L1989.2,1003.0 L1991.3,997.5 L1993.3,993.8 L1995.4,1000.3 L1997.4,1002.7 L1999.4,1018.9 L2001.5,1019.6 L2003.5,1007.3 L2005.6,1013.3 L2007.6,1014.6 L2009.7,1009.7 L2011.7,1007.4 L2013.8,995.2 L2015.8,1023.9 L2017.9,1016.6 L2019.9,1001.1 L2021.9,1028.1 L2024.0,1019.0 L2026.0,1034.3 L2028.1,1017.4 L2030.1,1034.9 L2032.2,1025.8 L2034.2,1025.7 L2036.3,1037.3 L2038.3,1046.7 L2040.4,1043.0 L2042.4,1036.3 L2044.5,1034.3 L2046.5,1033.6 L2048.5,1048.3 L2050.6,1031.1 L2052.6,1039.4 L2054.7,1044.4 L2056.7,1050.5 L2058.8,1054.5 L2060.8,1065.3 L2062.9,1053.2 L2064.9,1050.3 L2067.0,1038.2 L2069.0,1045.4 L2071.0,1061.8 L2073.1,1048.0 L2075.1,1062.7 L2077.2,1037.8 L2079.2,1036.1 L2081.3,1052.9 L2083.3,1060.9 L2085.4,1046.0 L2087.4,1054.1 L2089.5,1053.9 L2091.5,1056.5 L2093.6,1064.7 L2095.6,1054.5 L2097.6,1050.2 L2099.7,1058.9 L2101.7,1063.8 L2103.8,1064.5 L2105.8,1056.1 L2107.9,1054.2 L2109.9,1065.2 L2112.0,1073.4 L2114.0,1060.6 L2116.1,1066.9 L2118.1,1063.2 L2120.1,1049.5 L2122.2,1054.7 L2124.2,1082.2 L2126.3,1074.5 L2128.3,1067.3 L2130.4,1082.0 L2132.4,1085.1 L2134.5,1073.2 L2136.5,1074.7 L2138.6,1074.3 L2140.6,1070.6 L2142.6,1079.4 L2144.7,1076.4 L2146.7,1076.9 L2148.8,1068.5 L2150.8,1093.8 L2152.9,1075.1 L2154.9,1095.0 L2157.0,1093.1 L2159.0,1079.2 L2161.1,1080.0 L2163.1,1081.3 L2165.2,1085.5 L2167.2,1085.4 L2169.2,1093.1 L2171.3,1086.4 L2173.3,1077.8 L2175.4,1106.7 L2177.4,1093.0 L2179.5,1098.0 L2181.5,1105.6 L2183.6,1096.4 L2185.6,1095.9 L2187.7,1113.6 L2189.7,1114.6 L2191.7,1098.1 L2193.8,1100.6 L2195.8,1088.3 L2197.9,1104.0 L2199.9,1091.9 L2202.0,1106.1 L2204.0,1113.1 L2206.1,1102.8 L2208.1,1108.6 L2210.2,1107.6 L2212.2,1126.2 L2214.2,1105.7 L2216.3,1110.9 L2218.3,1109.1 L2220.4,1108.7 L2222.4,1099.7 L2224.5,1115.0 L2226.5,1116.8 L2228.6,1109.2 L2230.6,1109.0 L2232.7,1116.8 L2234.7,1123.2 L2236.8,1126.1 L2238.8,1128.6 L2240.8,1130.5 L2242.9,1119.1 L2244.9,1131.3 L2247.0,1123.5 L2249.0,1136.2 L2251.1,1122.9 L2253.1,1132.3 L2255.2,1121.6 L2257.2,1129.0 L2259.3,1131.8 L2261.3,1150.2 L2263.3,1140.6 L2265.4,1139.4 L2267.4,1138.1 L2269.5,1141.9 L2271.5,1130.6 L2273.6,1129.3 L2275.6,1135.5 L2277.7,1119.3 L2279.7,1131.5 L2281.8,1142.5 L2283.8,1132.0 L2285.9,1129.1 L2287.9,1132.4 L2289.9,1127.7 L2292.0,1137.5 L2294.0,1131.4 L2296.1,1131.4 L2298.1,1128.0 L2300.2,1135.1 L2302.2,1136.9 L2304.3,1132.2 L2306.3,1129.4 L2308.4,1134.3 L2310.4,1133.6" stroke="#00ff00"/>
<path d="M1492.1,614.5 L1494.1,606.6 L1496.2,638.5 L1498.2,628.7 L1500.3,668.8 L1502.3,712.9 L1504.4,727.2 L1506.4,696.8 L1508.5,746.8 L1510.5,756.9 L1512.6,767.2 L1514.6,782.5 L1516.6,756.6 L1518.7,762.2 L1520.7,802.1 L1522.8,764.1 L1524.8,783.3 L1526.9,811.8 L1528.9,837.1 L1531.0,826.7 L1533.0,833.1 L1535.1,820.7 L1537.1,845.1 L1539.2,828.4 L1541.2,811.9 L1543.2,867.0 L1545.3,869.8 L1547.3,844.3 L1549.4,843.1 L1551.4,915.8 L1553.5,903.7 L1555.5,925.5 L1557.6,892.1 L1559.6,893.3 L1561.7,904.3 L1563.7,883.3 L1565.7,865.6 L1567.8,925.5 L1569.8,923.3 L1571.9,925.5 L1573.9,930.0 L1576.0,934.5 L1578.0,941.2 L1580.1,912.6 L1582.1,936.5 L1584.2,945.5 L1586.2,942.9 L1588.3,964.2 L1590.3,935.7 L1592.3,926.7 L1594.4,957.9 L1596.4,927.7 L1598.5,967.5 L1600.5,937.8 L1602.6,955.4 L1604.6,927.2 L1606.7,954.2 L1608.7,960.3 L1610.8,977.0 L1612.8,996.1 L1614.8,993.6 L1616.9,1004.1 L1618.9,1015.2 L1621.0,970.6 L1623.0,1019.5 L1625.1,983.2 L1627.1,982.3 L1629.2,1014.6 L1631.2,1029.4 L1633.3,980.6 L1635.3,980.0 L1637.3,977.8 L1639.4,971.6 L1641.4,972.9 L1643.5,994.7 L1645.5,971.3 L1647.6,971.6 L1649.6,954.7 L1651.7,969.9 L1653.7,977.3 L1655.8,978.0 L1657.8,995.5 L1659.9,987.8 L1661.9,967.6 L1663.9,1014.9 L1666.0,998.6 L1668.0,971.0 L1670.1,995.6 L1672.1,1012.4 L1674.2,977.7 L1676.2,975.4 L1678.3,979.4 L1680.3,981.8 L1682.4,1010.3 L1684.4,950.3 L1686.4,1019.5 L1688.5,999.3 L1690.5,976.3 L1692.6,977.1 L1694.6,986.2 L1696.7,983.3 L1698.7,975.8 L1700.8,980.2 L1702.8,1000.2 L1704.9,984.0 L1706.9,980.0 L1708.9,979.9 L1711.0,986.2 L1713.0,1002.0 L1715.1,976.9 L1717.1,972.9 L1719.2,977.9 L1721.2,1011.3 L1723.3,977.6 L1725.3,957.4 L1727.4,974.7 L1729.4,990.2 L1731.5,977.0 L1733.5,983.2 L1735.5,986.8 L1737.6,971.9 L1739.6,975.5 L1741.7,992.2 L1743.7,949.6 L1745.8,1015.4 L1747.8,1006.8 L1749.9,980.7 L1751.9,978.9 L1754.0,1017.7 L1756.0,997.7 L1758.0,958.6 L1760.1,976.5 L1762.1,968.1 L1764.2,971.5 L1766.2,973.8 L1768.3,982.2 L1770.3,995.0 L1772.4,1002.3 L1774.4,986.2 L1776.5,958.3 L1778.5,955.6 L1780.6,949.6 L1782.6,973.7 L1784.6,984.9 L1786.7,946.2 L1788.7,953.0 L1790.8,961.5 L1792.8,962.3 L1794.9,977.2 L1796.9,949.1 L1799.0,999.1 L1801.0,975.7 L1803.1,959.0 L1805.1,968.3 L1807.1,942.2 L1809.2,961.6 L1811.2,980.0 L1813.3,981.7 L1815.3,1004.2 L1817.4,947.4 L1819.4,965.3 L1821.5,909.5 L1823.5,986.9 L1825.6,984.0 L1827.6,957.5 L1829.6,975.0 L1831.7,966.9 L1833.7,940.2 L1835.8,958.0 L1837.8,957.6 L1839.9,959.3 L1841.9,970.7 L1844.0,949.6 L1846.0,957.6 L1848.1,925.9 L1850.1,947.7 L1852.2,985.6 L1854.2,962.7 L1856.2,971.2 L1858.3,931.3 L1860.3,956.8 L1862.4,974.8 L1864.4,959.2 L1866.5,935.3 L1868.5,938.6 L1870.6,948.9 L1872.6,908.2 L1874.7,971.7 L1876.7,957.0 L1878.7,953.1 L1880.8,964.4 L1882.8,947.1 L1884.9,968.8 L1886.9,934.4 L1889.0,962.8 L1891.0,967.6 L1893.1,971.2 L1895.1,958.9 L1897.2,947.8 L1899.2,950.1 L1901.2,967.6 L1903.3,953.6 L1905.3,975.2 L1907.4,960.0 L1909.4,950.6 L1911.5,957.9 L1913.5,970.5 L1915.6,975.8 L1917.6,958.9 L1919.7,965.2 L1921.7,995.6 L1923.8,982.7 L1925.8,971.9 L1927.8,965.7 L1929.9,970.8 L1931.9,947.6 L1934.0,989.6 L1936.0,948.9 L1938.1,979.3 L1940.1,968.3 L1942.2,980.6 L1944.2,971.8 L1946.3,1022.3 L1948.3,953.5 L1950.3,986.5 L1952.4,980.8 L1954.4,1017.3 L1956.5,982.3 L1958.5,992.4 L1960.6,970.4 L1962.6,978.0 L1964.7,993.1 L1966.7,1009.6 L1968.8,965.3 L1970.8,994.5 L1972.9,973.4 L1974.9,974.8 L1976.9,968.5 L1979.0,1015.3 L1981.0,1014.1 L1983.1,1003.0 L1985.1,1009.1 L1987.2,986.9 L1989.2,994.2 L1991.3,989.5 L1993.3,997.7 L1995.4,994.2 L1997.4,994.0 L1999.4,1000.4 L2001.5,1011.9 L2003.5,983.8 L2005.6,1009.9 L2007.6,1031.1 L2009.7,1036.8 L2011.7,997.6 L2013.8,1012.5 L2015.8,1014.5 L2017.9,1029.6 L2019.9,1004.6 L2021.9,992.5 L2024.0,1003.7 L2026.0,1027.0 L2028.1,1012.7 L2030.1,1008.2 L2032.2,1026.9 L2034.2,1031.4 L2036.3,1031.6 L2038.3,983.1 L2040.4,990.6 L2042.4,1015.7 L2044.5,1011.8 L2046.5,996.3 L2048.5,997.7 L2050.6,1003.8 L2052.6,1030.5 L2054.7,1031.8 L2056.7,1018.0 L2058.8,1004.7 L2060.8,1007.6 L2062.9,1020.2 L2064.9,1031.1 L2067.0,1074.5 L2069.0,1034.0 L2071.0,1018.1 L2073.1,1017.2 L2075.1,1012.9 L2077.2,998.2 L2079.2,1053.5 L2081.3,1062.4 L2083.3,1015.5 L2085.4,1006.8 L2087.4,1009.4 L2089.5,1013.2 L2091.5,1026.3 L2093.6,1029.5 L2095.6,994.8 L2097.6,1039.8 L2099.7,1010.3 L2101.7,1032.9 L2103.8,1030.3 L2105.8,1047.4 L2107.9,1037.3 L2109.9,1045.4 L2112.0,1061.8 L2114.0,1053.5 L2116.1,1068.0 L2118.1,1024.6 L2120.1,1056.6 L2122.2,1048.0 L2124.2,1014.5 L2126.3,1031.3 L2128.3,1049.7 L2130.4,1027.5 L2132.4,1038.7 L2134.5,1033.9 L2136.5,1058.7 L2138.6,1030.8 L2140.6,1041.4 L2142.6,1052.4 L2144.7,1097.9 L2146.7,1051.1 L2148.8,1061.0 L2150.8,1045.3 L2152.9,1045.3 L2154.9,1060.9 L2157.0,1026.9 L2159.0,1034.2 L2161.1,1070.3 L2163.1,1023.6 L2165.2,1059.9 L2167.2,1072.5 L2169.2,1047.8 L2171.3,1029.8 L2173.3,1024.0 L2175.4,1057.5 L2177.4,1043.7 L2179.5,1045.7 L2181.5,1026.5 L2183.6,1034.4 L2185.6,1041.7 L2187.7,1044.5 L2189.7,1047.2 L2191.7,1048.6 L2193.8,1057.1 L2195.8,1065.9 L2197.9,1033.6 L2199.9,1055.8 L2202.0,1055.6 L2204.0,1064.9 L2206.1,1055.7 L2208.1,1072.4 L2210.2,1057.9 L2212.2,1068.7 L2214.2,1046.3 L2216.3,1098.0 L2218.3,1045.9 L2220.4,1065.1 L2222.4,1086.5 L2224.5,1061.4 L2226.5,1077.0 L2228.6,1066.3 L2230.6,1077.0 L2232.7,1071.7 L2234.7,1075.7 L2236.8,1081.6 L2238.8,1086.0 L2240.8,1066.8 L2242.9,1065.3 L2244.9,1065.6 L2247.0,1084.9 L2249.0,1078.0 L2251.1,1076.0 L2253.1,1076.7 L2255.2,1080.8 L2257.2,1072.6 L2259.3,1089.0 L2261.3,1072.7 L2263.3,1099.0 L2265.4,1086.1 L2267.4,1089.3 L2269.5,1088.6 L2271.5,1065.5 L2273.6,1102.1 L2275.6,1084.5 L2277.7,1081.0 L2279.7,1069.4 L2281.8,1092.1 L2283.8,1094.5 L2285.9,1085.1 L2287.9,1074.8 L2289.9,1067.1 L2292.0,1045.0 L2294.0,1043.3 L2296.1,1057.2 L2298.1,1064.6 L2300.2,1056.2 L2302.2,1067.8 L2304.3,1086.8 L2306.3,1098.8 L2308.4,1096.5 L2310.4,1108.9" stroke="#0000ff"/>
<path d="M1492.1,660.4 L1494.1,680.6 L1496.2,683.2 L1498.2,689.7 L1500.3,685.6 L1502.3,700.4 L1504.4,704.5 L1506.4,709.0 L1508.5,713.1 L1510.5,720.6 L1512.6,733.8 L1514.6,744.1 L1516.6,736.8 L1518.7,745.1 L1520.7,746.3 L1522.8,754.6 L1524.8,754.7 L1526.9,751.1 L1528.9,765.8 L1531.0,762.9 L1533.0,771.8 L1535.1,763.0 L1537.1,771.5 L1539.2,779.8 L1541.2,786.2 L1543.2,782.2 L1545.3,785.2 L1547.3,789.7 L1549.4,786.3 L1551.4,799.1 L1553.5,794.2 L1555.5,793.4 L1557.6,804.5 L1559.6,800.2 L1561.7,799.3 L1563.7,813.4 L1565.7,812.1 L1567.8,816.7 L1569.8,811.1 L1571.9,807.5 L1573.9,823.9 L1576.0,820.2 L1578.0,812.8 L1580.1,827.6 L1582.1,824.6 L1584.2,827.1 L1586.2,834.0 L1588.3,830.1 L1590.3,834.5 L1592.3,838.5 L1594.4,841.2 L1596.4,836.3 L1598.5,842.9 L1600.5,848.4 L1602.6,848.9 L1604.6,847.0 L1606.7,848.0 L1608.7,857.3 L1610.8,848.9 L1612.8,859.3 L1614.8,863.2 L1616.9,858.2 L1618.9,856.5 L1621.0,854.9 L1623.0,864.8 L1625.1,862.2 L1627.1,856.8 L1629.2,862.0 L1631.2,857.3 L1633.3,859.7 L1635.3,869.2 L1637.3,866.5 L1639.4,859.5 L1641.4,873.4 L1643.5,860.2 L1645.5,864.8 L1647.6,868.2 L1649.6,855.2 L1651.7,869.2 L1653.7,868.8 L1655.8,868.0 L1657.8,868.6 L1659.9,865.5 L1661.9,866.7 L1663.9,878.9 L1666.0,864.6 L1668.0,865.5 L1670.1,866.7 L1672.1,869.1 L1674.2,878.3 L1676.2,869.1 L1678.3,874.8 L1680.3,878.0 L1682.4,873.8 L1684.4,871.7 L1686.4,879.3 L1688.5,880.2 L1690.5,873.6 L1692.6,872.3 L1694.6,879.6 L1696.7,877.0 L1698.7,878.4 L1700.8,873.3 L1702.8,878.3 L1704.9,887.8 L1706.9,884.2 L1708.9,875.9 L1711.0,875.8 L1713.0,876.5 L1715.1,883.6 L1717.1,887.0 L1719.2,880.6 L1721.2,884.7 L1723.3,885.7 L1725.3,888.1 L1727.4,884.1 L1729.4,889.9 L1731.5,888.3 L1733.5,878.6 L1735.5,887.8 L1737.6,882.7 L1739.6,887.5 L1741.7,887.1 L1743.7,888.7 L1745.8,880.9 L1747.8,890.0 L1749.9,891.7 L1751.9,893.6 L1754.0,898.0 L1756.0,892.2 L1758.0,902.3 L1760.1,906.6 L1762.1,900.1 L1764.2,900.1 L1766.2,907.7 L1768.3,901.8 L1770.3,903.5 L1772.4,910.7 L1774.4,913.2 L1776.5,903.0 L1778.5,904.8 L1780.6,901.6 L1782.6,911.2 L1784.6,900.8 L1786.7,905.6 L1788.7,904.5 L1790.8,898.4 L1792.8,907.1 L1794.9,908.1 L1796.9,909.4 L1799.0,914.1 L1801.0,908.6 L1803.1,914.7 L1805.1,913.3 L1807.1,916.8 L1809.2,906.0 L1811.2,910.0 L1813.3,904.6 L1815.3,912.5 L1817.4,912.0 L1819.4,913.7 L1821.5,915.0 L1823.5,903.7 L1825.6,921.2 L1827.6,906.2 L1829.6,906.9 L1831.7,914.2 L1833.7,911.9 L1835.8,906.1 L1837.8,913.0 L1839.9,922.1 L1841.9,916.6 L1844.0,908.3 L1846.0,918.3 L1848.1,909.1 L1850.1,916.5 L1852.2,911.7 L1854.2,917.4 L1856.2,918.3 L1858.3,917.0 L1860.3,925.1 L1862.4,913.7 L1864.4,925.7 L1866.5,917.0 L1868.5,921.7 L1870.6,915.7 L1872.6,912.0 L1874.7,917.7 L1876.7,919.3 L1878.7,917.0 L1880.8,916.5 L1882.8,915.0 L1884.9,921.1 L1886.9,914.3 L1889.0,924.0 L1891.0,920.5 L1893.1,910.5 L1895.1,919.4 L1897.2,917.4 L1899.2,919.1 L1901.2,920.0 L1903.3,913.4 L1905.3,922.1 L1907.4,929.6 L1909.4,924.5 L1911.5,923.5 L1913.5,927.5 L1915.6,928.5 L1917.6,921.5 L1919.7,925.3 L1921.7,921.9 L1923.8,928.6 L1925.8,935.5 L1927.8,932.8 L1929.9,934.1 L1931.9,935.4 L1934.0,931.8 L1936.0,943.8 L1938.1,938.0 L1940.1,931.7 L1942.2,944.5 L1944.2,937.6 L1946.3,941.8 L1948.3,950.1 L1950.3,948.1 L1952.4,939.4 L1954.4,949.3 L1956.5,947.2 L1958.5,949.2 L1960.6,955.0 L1962.6,946.5 L1964.7,948.9 L1966.7,952.6 L1968.8,956.5 L1970.8,960.9 L1972.9,962.9 L1974.9,956.3 L1976.9,970.8 L1979.0,959.1 L1981.0,963.3 L1983.1,964.2 L1985.1,967.7 L1987.2,973.3 L1989.2,974.0 L1991.3,972.2 L1993.3,970.9 L1995.4,968.6 L1997.4,973.8 L1999.4,973.8 L2001.5,980.5 L2003.5,974.5 L2005.6,977.0 L2007.6,972.4 L2009.7,976.9 L2011.7,981.8 L2013.8,987.6 L2015.8,976.9 L2017.9,988.3 L2019.9,983.9 L2021.9,981.7 L2024.0,983.4 L2026.0,992.2 L2028.1,992.6 L2030.1,984.2 L2032.2,987.0 L2034.2,981.0 L2036.3,994.8 L2038.3,999.2 L2040.4,998.0 L2042.4,997.4 L2044.5,996.1 L2046.5,993.7 L2048.5,994.4 L2050.6,997.6 L2052.6,1000.3 L2054.7,996.4 L2056.7,1000.4 L2058.8,994.9 L2060.8,1000.9 L2062.9,1002.6 L2064.9,995.4 L2067.0,995.9 L2069.0,994.6 L2071.0,1006.0 L2073.1,998.2 L2075.1,996.9 L2077.2,1002.2 L2079.2,1007.5 L2081.3,1004.5 L2083.3,1001.6 L2085.4,1004.0 L2087.4,1004.3 L2089.5,1000.9 L2091.5,997.0 L2093.6,998.9 L2095.6,1009.5 L2097.6,1012.9 L2099.7,999.0 L2101.7,1000.3 L2103.8,1006.8 L2105.8,1013.6 L2107.9,1000.6 L2109.9,1009.2 L2112.0,1010.7 L2114.0,1008.3 L2116.1,1007.2 L2118.1,1014.6 L2120.1,1013.4 L2122.2,1008.4 L2124.2,1008.3 L2126.3,1015.2 L2128.3,999.2 L2130.4,1004.3 L2132.4,1007.2 L2134.5,1007.1 L2136.5,1018.9 L2138.6,1010.0 L2140.6,1008.4 L2142.6,1010.5 L2144.7,1009.9 L2146.7,1009.1 L2148.8,1005.5 L2150.8,1007.7 L2152.9,1014.9 L2154.9,1008.4 L2157.0,1015.4 L2159.0,1012.9 L2161.1,1012.8 L2163.1,1014.6 L2165.2,1015.8 L2167.2,1014.3 L2169.2,1014.4 L2171.3,1026.1 L2173.3,1017.1 L2175.4,1020.6 L2177.4,1011.1 L2179.5,1017.3 L2181.5,1021.7 L2183.6,1017.0 L2185.6,1018.9 L2187.7,1017.6 L2189.7,1029.3 L2191.7,1022.5 L2193.8,1025.7 L2195.8,1015.8 L2197.9,1019.3 L2199.9,1024.1 L2202.0,1024.1 L2204.0,1024.8 L2206.1,1027.2 L2208.1,1029.9 L2210.2,1032.1 L2212.2,1022.5 L2214.2,1032.5 L2216.3,1027.1 L2218.3,1026.2 L2220.4,1028.3 L2222.4,1031.8 L2224.5,1029.9 L2226.5,1035.7 L2228.6,1038.2 L2230.6,1030.9 L2232.7,1032.9 L2234.7,1031.5 L2236.8,1037.0 L2238.8,1046.0 L2240.8,1040.3 L2242.9,1041.9 L2244.9,1035.2 L2247.0,1043.7 L2249.0,1036.7 L2251.1,1040.2 L2253.1,1040.6 L2255.2,1041.3 L2257.2,1040.4 L2259.3,1048.2 L2261.3,1039.1 L2263.3,1051.7 L2265.4,1048.4 L2267.4,1049.0 L2269.5,1043.3 L2271.5,1050.5 L2273.6,1040.1 L2275.6,1052.2 L2277.7,1038.8 L2279.7,1046.2 L2281.8,1045.8 L2283.8,1048.4 L2285.9,1046.6 L2287.9,1053.9 L2289.9,1057.2 L2292.0,1047.9 L2294.0,1049.2 L2296.1,1053.1 L2298.1,1053.9 L2300.2,1053.8 L2302.2,1052.7 L2304.3,1049.8 L2306.3,1055.3 L2308.4,1052.7 L2310.4,1049.2" stroke="#000000"/>
<path d="M1492.1,576.0 L1494.1,572.8 L1496.2,584.0 L1498.2,591.9 L1500.3,595.1 L1502.3,630.2 L1504.4,616.3 L1506.4,614.9 L1508.5,628.4 L1510.5,631.1 L1512.6,636.5 L1514.6,631.8 L1516.6,638.5 L1518.7,632.1 L1520.7,646.0 L1522.8,656.2 L1524.8,668.3 L1526.9,685.1 L1528.9,685.8 L1531.0,688.6 L1533.0,700.4 L1535.1,721.7 L1537.1,731.0 L1539.2,712.9 L1541.2,717.3 L1543.2,715.5 L1545.3,726.1 L1547.3,714.2 L1549.4,719.1 L1551.4,733.0 L1553.5,730.8 L1555.5,749.5 L1557.6,747.0 L1559.6,768.9 L1561.7,757.3 L1563.7,737.4 L1565.7,754.7 L1567.8,748.2 L1569.8,761.1 L1571.9,766.6 L1573.9,769.1 L1576.0,777.0 L1578.0,769.1 L1580.1,784.7 L1582.1,779.9 L1584.2,762.1 L1586.2,780.1 L1588.3,791.0 L1590.3,779.0 L1592.3,786.7 L1594.4,794.8 L1596.4,804.3 L1598.5,797.3 L1600.5,801.4 L1602.6,798.4 L1604.6,796.8 L1606.7,799.0 L1608.7,811.4 L1610.8,799.4 L1612.8,801.6 L1614.8,819.8 L1616.9,804.6 L1618.9,809.4 L1621.0,806.2 L1623.0,820.6 L1625.1,814.7 L1627.1,814.9 L1629.2,824.9 L1631.2,809.8 L1633.3,817.9 L1635.3,812.4 L1637.3,825.8 L1639.4,830.1 L1641.4,828.7 L1643.5,838.8 L1645.5,826.8 L1647.6,817.0 L1649.6,808.3 L1651.7,811.9 L1653.7,811.7 L1655.8,812.8 L1657.8,806.2 L1659.9,825.1 L1661.9,819.2 L1663.9,823.0 L1666.0,851.4 L1668.0,829.6 L1670.1,831.5 L1672.1,829.5 L1674.2,838.8 L1676.2,841.9 L1678.3,840.8 L1680.3,830.3 L1682.4,833.8 L1684.4,825.3 L1686.4,851.6 L1688.5,830.4 L1690.5,824.2 L1692.6,851.1 L1694.6,842.9 L1696.7,859.3 L1698.7,866.6 L1700.8,859.1 L1702.8,847.0 L1704.9,846.2 L1706.9,852.7 L1708.9,843.9 L1711.0,847.5 L1713.0,833.9 L1715.1,865.5 L1717.1,861.4 L1719.2,859.4 L1721.2,831.1 L1723.3,859.8 L1725.3,835.2 L1727.4,860.2 L1729.4,851.4 L1731.5,871.5 L1733.5,865.5 L1735.5,851.6 L1737.6,850.8 L1739.6,876.0 L1741.7,841.7 L1743.7,858.1 L1745.8,869.9 L1747.8,858.8 L1749.9,869.9 L1751.9,878.1 L1754.0,863.2 L1756.0,857.7 L1758.0,856.0 L1760.1,882.4 L1762.1,876.2 L1764.2,869.6 L1766.2,858.3 L1768.3,856.4 L1770.3,873.1 L1772.4,881.3 L1774.4,864.9 L1776.5,875.4 L1778.5,867.2 L1780.6,861.7 L1782.6,866.4 L1784.6,882.2 L1786.7,884.8 L1788.7,887.8 L1790.8,866.9 L1792.8,863.6 L1794.9,884.7 L1796.9,880.4 L1799.0,884.7 L1801.0,877.6 L1803.1,884.8 L1805.1,885.2 L1807.1,865.5 L1809.2,869.1 L1811.2,877.9 L1813.3,867.7 L1815.3,884.6 L1817.4,874.8 L1819.4,888.5 L1821.5,887.0 L1823.5,870.9 L1825.6,892.0 L1827.6,884.7 L1829.6,892.2 L1831.7,893.2 L1833.7,881.5 L1835.8,881.3 L1837.8,896.5 L1839.9,861.8 L1841.9,868.1 L1844.0,891.5 L1846.0,879.1 L1848.1,881.8 L1850.1,889.5 L1852.2,895.9 L1854.2,883.7 L1856.2,885.7 L1858.3,872.8 L1860.3,882.8 L1862.4,894.1 L1864.4,891.2 L1866.5,885.0 L1868.5,875.8 L1870.6,896.3 L1872.6,882.9 L1874.7,873.1 L1876.7,899.5 L1878.7,872.4 L1880.8,891.3 L1882.8,886.8 L1884.9,891.6 L1886.9,883.2 L1889.0,882.2 L1891.0,882.7 L1893.1,867.5 L1895.1,911.2 L1897.2,897.9 L1899.2,907.4 L1901.2,898.2 L1903.3,903.3 L1905.3,899.3 L1907.4,897.4 L1909.4,902.9 L1911.5,888.8 L1913.5,911.7 L1915.6,903.0 L1917.6,897.9 L1919.7,885.5 L1921.7,911.5 L1923.8,912.5 L1925.8,899.3 L1927.8,907.9 L1929.9,927.0 L1931.9,907.3 L1934.0,919.9 L1936.0,928.4 L1938.1,930.2 L1940.1,927.7 L1942.2,933.5 L1944.2,928.4 L1946.3,929.5 L1948.3,944.1 L1950.3,949.5 L1952.4,920.9 L1954.4,941.8 L1956.5,921.6 L1958.5,937.3 L1960.6,960.3 L1962.6,938.0 L1964.7,949.5 L1966.7,962.7 L1968.8,943.0 L1970.8,954.1 L1972.9,946.4 L1974.9,934.6 L1976.9,938.8 L1979.0,946.5 L1981.0,947.3 L1983.1,948.5 L1985.1,957.0 L1987.2,962.0 L1989.2,958.9 L1991.3,955.5 L1993.3,966.5 L1995.4,963.6 L1997.4,963.4 L1999.4,974.3 L2001.5,957.7 L2003.5,957.1 L2005.6,968.6 L2007.6,980.3 L2009.7,990.7 L2011.7,993.6 L2013.8,963.8 L2015.8,973.7 L2017.9,982.0 L2019.9,991.3 L2021.9,979.9 L2024.0,970.5 L2026.0,977.1 L2028.1,990.6 L2030.1,960.1 L2032.2,977.9 L2034.2,995.5 L2036.3,981.0 L2038.3,981.8 L2040.4,979.7 L2042.4,983.9 L2044.5,999.7 L2046.5,985.5 L2048.5,997.4 L2050.6,989.4 L2052.6,991.9 L2054.7,985.9 L2056.7,990.7 L2058.8,996.5 L2060.8,972.4 L2062.9,997.6 L2064.9,998.4 L2067.0,991.2 L2069.0,991.3 L2071.0,987.1 L2073.1,1010.2 L2075.1,1002.3 L2077.2,987.2 L2079.2,995.3 L2081.3,995.5 L2083.3,1011.8 L2085.4,1012.3 L2087.4,1007.0 L2089.5,997.6 L2091.5,992.8 L2093.6,992.1 L2095.6,1018.4 L2097.6,1001.8 L2099.7,1000.9 L2101.7,1005.8 L2103.8,1006.1 L2105.8,1012.9 L2107.9,1006.8 L2109.9,1024.0 L2112.0,992.6 L2114.0,1003.2 L2116.1,992.0 L2118.1,1013.9 L2120.1,1023.0 L2122.2,990.9 L2124.2,1028.4 L2126.3,1020.4 L2128.3,1002.6 L2130.4,997.2 L2132.4,1017.5 L2134.5,1013.7 L2136.5,1014.8 L2138.6,1008.1 L2140.6,1021.9 L2142.6,1008.7 L2144.7,1006.6 L2146.7,1016.4 L2148.8,1015.1 L2150.8,995.1 L2152.9,1014.0 L2154.9,1021.2 L2157.0,1007.7 L2159.0,1007.0 L2161.1,1025.1 L2163.1,1028.0 L2165.2,1005.9 L2167.2,1008.4 L2169.2,1007.8 L2171.3,1005.0 L2173.3,1031.3 L2175.4,1036.1 L2177.4,1012.1 L2179.5,1013.0 L2181.5,1020.5 L2183.6,1015.7 L2185.6,1029.9 L2187.7,1032.6 L2189.7,1024.7 L2191.7,1020.2 L2193.8,1018.9 L2195.8,1026.1 L2197.9,1020.1 L2199.9,1015.0 L2202.0,1022.4 L2204.0,1032.0 L2206.1,1012.7 L2208.1,1039.8 L2210.2,1028.0 L2212.2,1013.2 L2214.2,1010.3 L2216.3,1017.6 L2218.3,1037.2 L2220.4,1050.4 L2222.4,1039.4 L2224.5,1036.4 L2226.5,1035.7 L2228.6,1047.0 L2230.6,1043.3 L2232.7,1037.4 L2234.7,1039.6 L2236.8,1029.1 L2238.8,1036.5 L2240.8,1037.0 L2242.9,1048.0 L2244.9,1043.1 L2247.0,1062.2 L2249.0,1048.8 L2251.1,1060.2 L2253.1,1045.0 L2255.2,1041.9 L2257.2,1046.4 L2259.3,1034.2 L2261.3,1054.9 L2263.3,1050.1 L2265.4,1054.9 L2267.4,1053.3 L2269.5,1038.8 L2271.5,1064.0 L2273.6,1036.8 L2275.6,1040.0 L2277.7,1047.5 L2279.7,1056.5 L2281.8,1051.6 L2283.8,1057.9 L2285.9,1041.3 L2287.9,1065.5 L2289.9,1064.6 L2292.0,1055.7 L2294.0,1077.4 L2296.1,1043.5 L2298.1,1060.3 L2300.2,1050.8 L2302.2,1056.5 L2304.3,1074.6 L2306.3,1058.4 L2308.4,1055.3 L2310.4,1070.3" stroke="#ff0000"/>
</g>
<text transform="translate(1480.50,1127.34) scale(1.0,1.02)" font-size="51.6" text-anchor="end">0.00</text>
<text transform="translate(1480.50,989.83) scale(1.0,1.02)" font-size="51.6" text-anchor="end">0.01</text>
<text transform="translate(1480.50,852.32) scale(1.0,1.02)" font-size="51.6" text-anchor="end">0.02</text>
<text transform="translate(1480.50,714.81) scale(1.0,1.02)" font-size="51.6" text-anchor="end">0.03</text>
<text transform="translate(1480.50,575.60) scale(1.0,1.02)" font-size="51.6" text-anchor="end">0.04</text>
<text transform="translate(1492.40,1233.80) scale(1.0,1.02)" font-size="51.6" text-anchor="middle">500</text>
<text transform="translate(1696.97,1233.80) scale(1.0,1.02)" font-size="51.6" text-anchor="middle">550</text>
<text transform="translate(1901.55,1233.80) scale(1.0,1.02)" font-size="51.6" text-anchor="middle">600</text>
<text transform="translate(2106.12,1233.80) scale(1.0,1.02)" font-size="51.6" text-anchor="middle">650</text>
<text transform="translate(2310.70,1233.80) scale(1.0,1.02)" font-size="51.6" text-anchor="middle">700</text>
</svg>
</body>
</html>
